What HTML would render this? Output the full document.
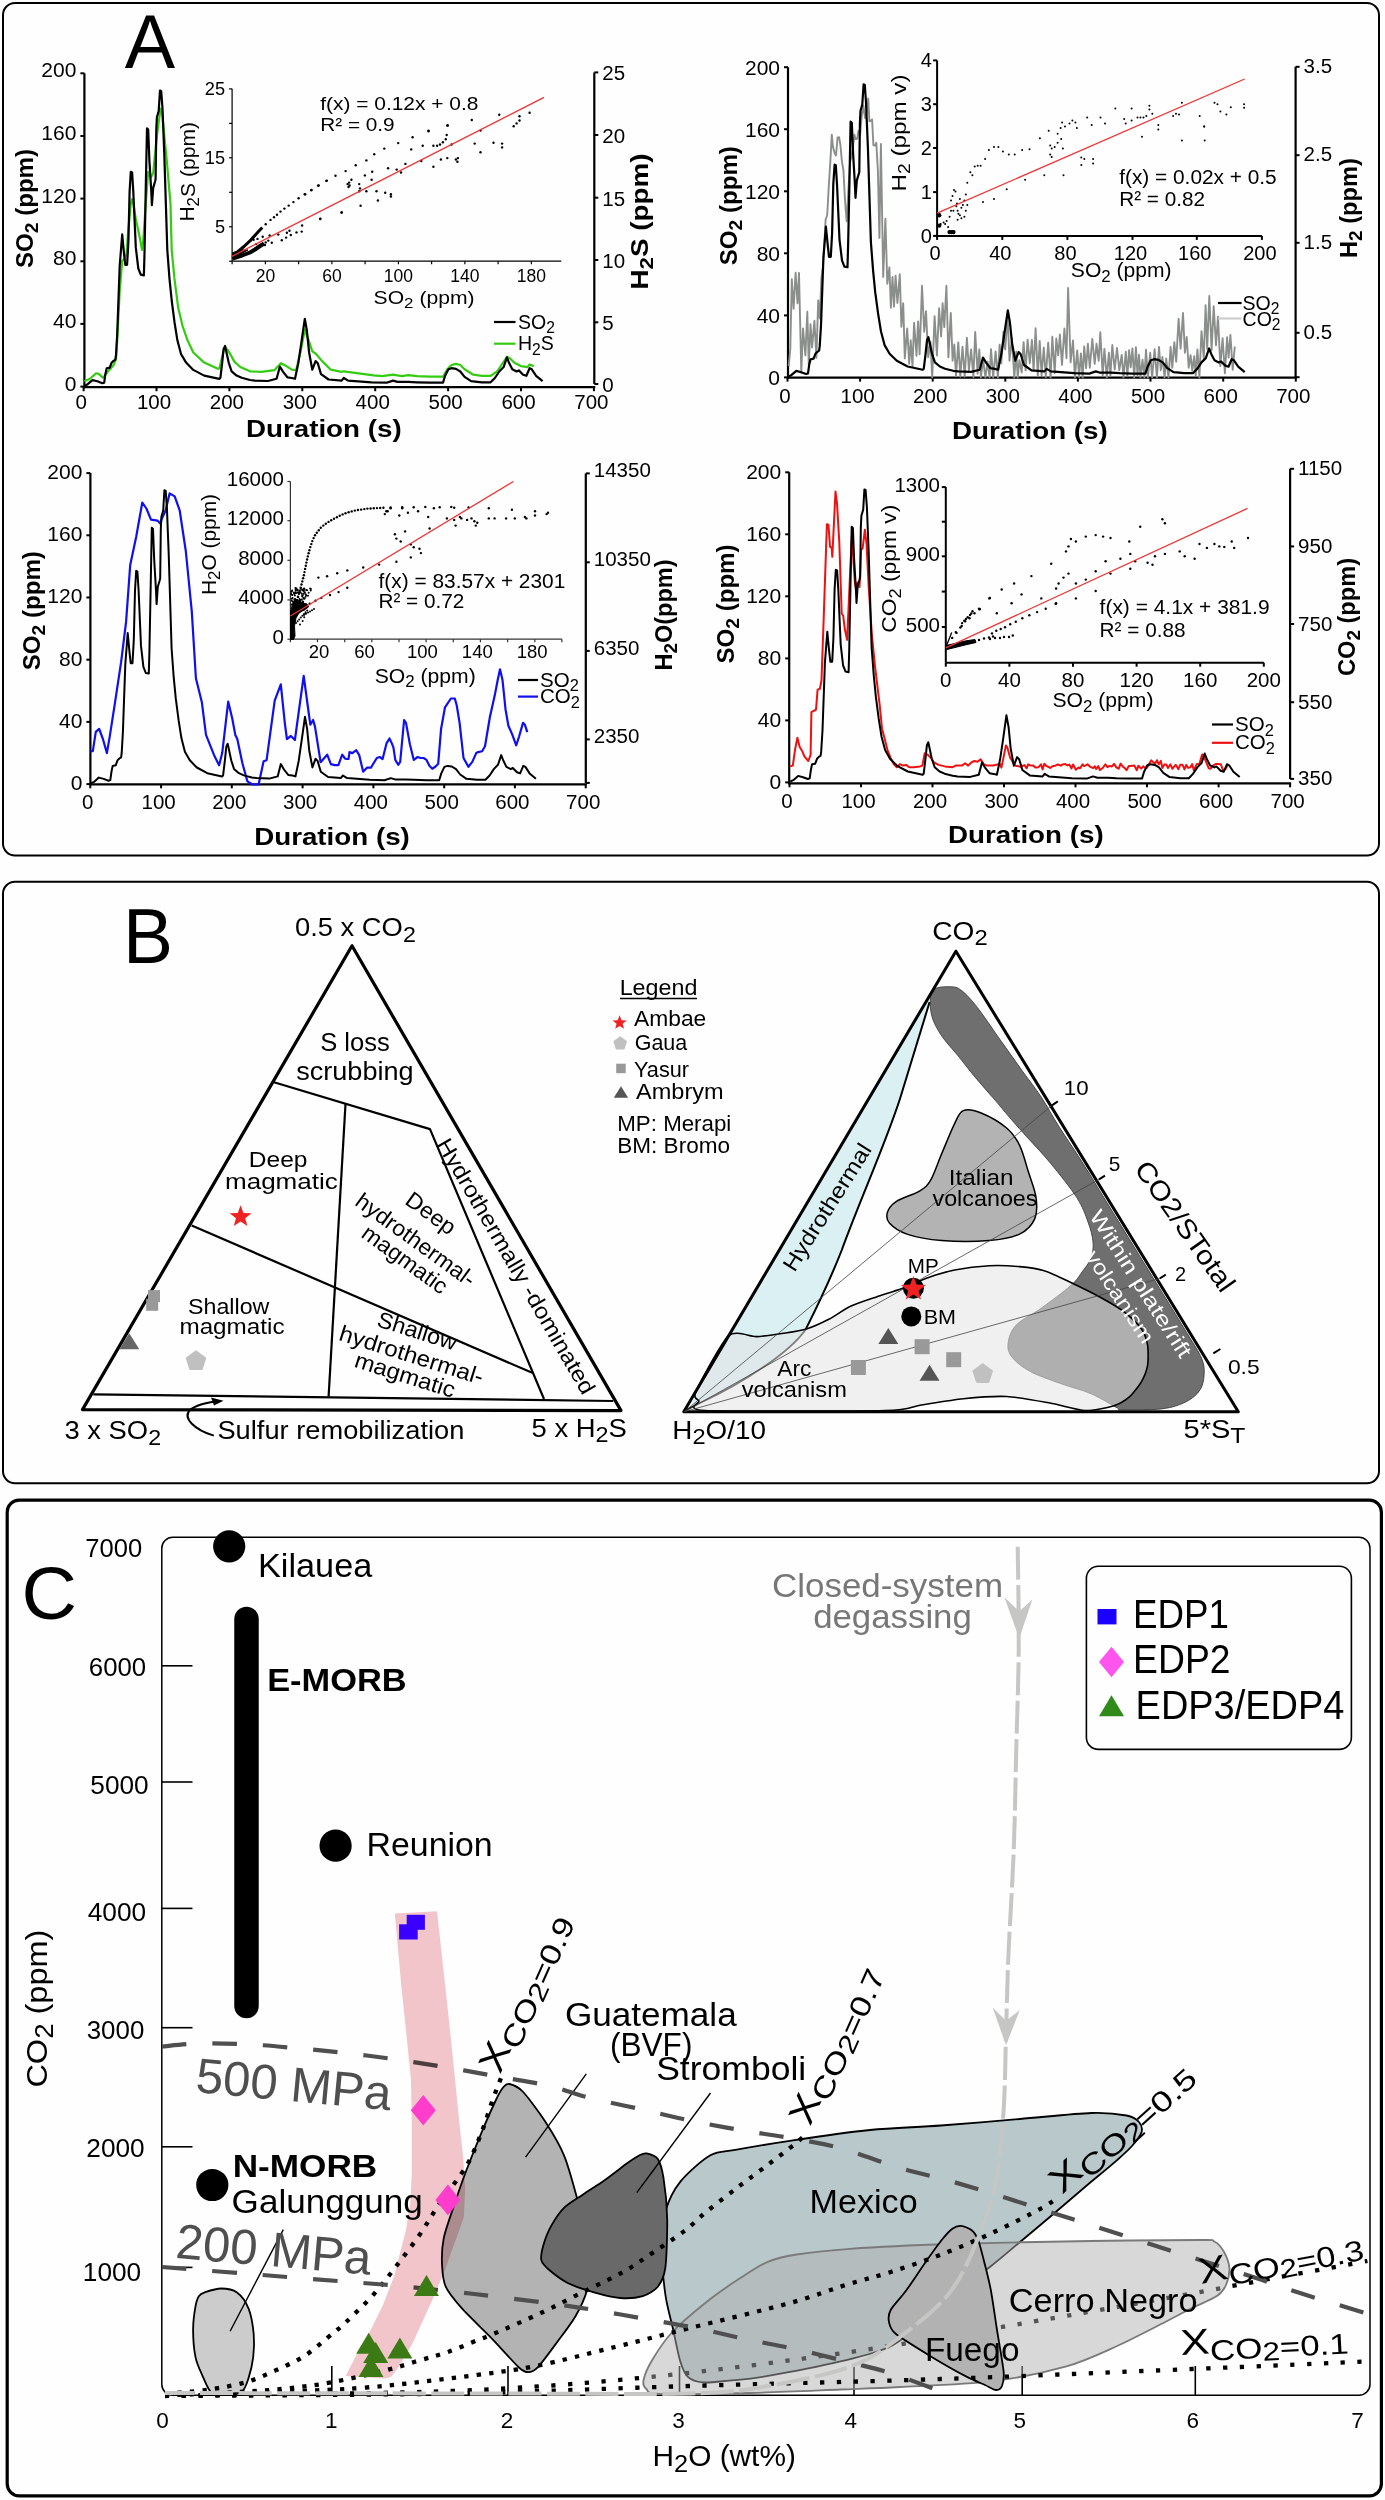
<!DOCTYPE html>
<html><head><meta charset="utf-8"><title>Figure</title>
<style>
html,body{margin:0;padding:0;background:#fff;}
body{width:1385px;height:2500px;overflow:hidden;}
svg{display:block;font-family:"Liberation Sans", sans-serif;}
</style></head><body>
<svg width="1385" height="2500" viewBox="0 0 1385 2500">
<rect x="0" y="0" width="1385" height="2500" fill="#fefefe"/>
<rect x="3.0" y="3.0" width="1376.0" height="852.5" rx="12.0" fill="none" stroke="#000" stroke-width="2.0"/>
<text x="150.0" y="68.0" font-size="75.5" text-anchor="middle" font-weight="normal" fill="#000">A</text>
<line x1="84.4" y1="73.2" x2="84.4" y2="388.2" stroke="#000" stroke-width="2.20"/>
<line x1="80.4" y1="73.3" x2="84.4" y2="73.3" stroke="#000" stroke-width="2.00"/>
<text x="76.4" y="77.4" font-size="21.0" text-anchor="end" font-weight="normal" fill="#000">200</text>
<line x1="80.4" y1="136.0" x2="84.4" y2="136.0" stroke="#000" stroke-width="2.00"/>
<text x="76.4" y="140.1" font-size="21.0" text-anchor="end" font-weight="normal" fill="#000">160</text>
<line x1="80.4" y1="198.6" x2="84.4" y2="198.6" stroke="#000" stroke-width="2.00"/>
<text x="76.4" y="202.7" font-size="21.0" text-anchor="end" font-weight="normal" fill="#000">120</text>
<line x1="80.4" y1="261.3" x2="84.4" y2="261.3" stroke="#000" stroke-width="2.00"/>
<text x="76.4" y="265.4" font-size="21.0" text-anchor="end" font-weight="normal" fill="#000">80</text>
<line x1="80.4" y1="323.9" x2="84.4" y2="323.9" stroke="#000" stroke-width="2.00"/>
<text x="76.4" y="328.0" font-size="21.0" text-anchor="end" font-weight="normal" fill="#000">40</text>
<line x1="80.4" y1="386.6" x2="84.4" y2="386.6" stroke="#000" stroke-width="2.00"/>
<text x="76.4" y="390.7" font-size="21.0" text-anchor="end" font-weight="normal" fill="#000">0</text>
<line x1="83.4" y1="387.2" x2="595.3" y2="387.2" stroke="#000" stroke-width="2.20"/>
<line x1="83.6" y1="387.2" x2="83.6" y2="391.2" stroke="#000" stroke-width="2.00"/>
<text x="81.1" y="408.5" font-size="20.5" text-anchor="middle" font-weight="normal" fill="#000">0</text>
<line x1="156.5" y1="387.2" x2="156.5" y2="391.2" stroke="#000" stroke-width="2.00"/>
<text x="154.0" y="408.5" font-size="20.5" text-anchor="middle" font-weight="normal" fill="#000">100</text>
<line x1="229.4" y1="387.2" x2="229.4" y2="391.2" stroke="#000" stroke-width="2.00"/>
<text x="226.9" y="408.5" font-size="20.5" text-anchor="middle" font-weight="normal" fill="#000">200</text>
<line x1="302.3" y1="387.2" x2="302.3" y2="391.2" stroke="#000" stroke-width="2.00"/>
<text x="299.8" y="408.5" font-size="20.5" text-anchor="middle" font-weight="normal" fill="#000">300</text>
<line x1="375.2" y1="387.2" x2="375.2" y2="391.2" stroke="#000" stroke-width="2.00"/>
<text x="372.7" y="408.5" font-size="20.5" text-anchor="middle" font-weight="normal" fill="#000">400</text>
<line x1="448.1" y1="387.2" x2="448.1" y2="391.2" stroke="#000" stroke-width="2.00"/>
<text x="445.6" y="408.5" font-size="20.5" text-anchor="middle" font-weight="normal" fill="#000">500</text>
<line x1="521.0" y1="387.2" x2="521.0" y2="391.2" stroke="#000" stroke-width="2.00"/>
<text x="518.5" y="408.5" font-size="20.5" text-anchor="middle" font-weight="normal" fill="#000">600</text>
<line x1="593.9" y1="387.2" x2="593.9" y2="391.2" stroke="#000" stroke-width="2.00"/>
<text x="591.4" y="408.5" font-size="20.5" text-anchor="middle" font-weight="normal" fill="#000">700</text>
<line x1="594.3" y1="72.4" x2="594.3" y2="384.0" stroke="#000" stroke-width="2.20"/>
<line x1="594.3" y1="72.4" x2="598.3" y2="72.4" stroke="#000" stroke-width="2.00"/>
<line x1="594.3" y1="135.0" x2="598.3" y2="135.0" stroke="#000" stroke-width="2.00"/>
<line x1="594.3" y1="197.7" x2="598.3" y2="197.7" stroke="#000" stroke-width="2.00"/>
<line x1="594.3" y1="260.0" x2="598.3" y2="260.0" stroke="#000" stroke-width="2.00"/>
<line x1="594.3" y1="322.3" x2="598.3" y2="322.3" stroke="#000" stroke-width="2.00"/>
<line x1="594.3" y1="384.0" x2="598.3" y2="384.0" stroke="#000" stroke-width="2.00"/>
<text x="602.3" y="80.4" font-size="20.5" text-anchor="start" font-weight="normal" fill="#000">25</text>
<text x="602.3" y="143.0" font-size="20.5" text-anchor="start" font-weight="normal" fill="#000">20</text>
<text x="602.3" y="205.7" font-size="20.5" text-anchor="start" font-weight="normal" fill="#000">15</text>
<text x="602.3" y="268.0" font-size="20.5" text-anchor="start" font-weight="normal" fill="#000">10</text>
<text x="602.3" y="330.3" font-size="20.5" text-anchor="start" font-weight="normal" fill="#000">5</text>
<text x="602.3" y="392.0" font-size="20.5" text-anchor="start" font-weight="normal" fill="#000">0</text>
<polyline points="84.3,381.3 89.9,378.8 96.1,373.3 98.6,373.9 102.9,377.6 104.8,375.7 108.5,370.8 113.5,365.2 116.0,359.0 117.2,340.4 119.7,290.8 122.2,261.0 124.6,258.6 126.5,253.6 128.4,228.8 130.8,204.0 132.1,199.0 133.3,204.0 135.8,218.9 139.5,236.2 142.0,249.9 143.2,241.2 145.7,204.0 148.2,171.8 149.4,175.5 151.3,176.7 153.2,173.0 155.0,154.4 156.9,135.8 159.4,117.2 160.6,108.5 161.8,109.8 164.3,135.8 166.8,160.6 170.5,204.0 171.7,250.0 174.5,278.9 178.2,307.8 182.5,325.8 187.5,340.3 193.3,352.5 204.2,362.6 217.9,368.8 219.3,368.4 221.5,359.7 223.6,351.1 225.8,348.2 228.0,350.4 230.9,355.4 234.5,361.9 240.3,367.0 250.0,371.3 261.4,371.9 274.4,370.2 280.9,363.2 285.3,365.4 291.8,369.7 296.1,370.2 300.4,352.4 304.8,329.7 309.1,341.6 312.3,351.3 315.6,353.5 322.1,361.1 330.8,369.7 341.6,371.9 343.8,371.3 373.6,375.4 382.3,376.2 393.1,374.7 401.8,376.2 408.3,375.2 417.0,376.2 430.0,376.7 443.0,376.7 447.3,369.3 451.6,365.0 456.0,363.9 460.3,365.0 464.6,369.3 473.3,374.7 481.9,375.8 490.6,375.8 497.1,371.5 501.4,365.0 506.9,356.8 510.1,358.5 514.4,362.8 520.9,366.1 527.4,367.1 529.6,364.5 533.9,366.1" fill="none" stroke="#33cc11" stroke-width="2.20" stroke-linejoin="round"/>
<polyline points="84.3,385.7 87.4,384.4 92.4,380.1 97.4,381.3 102.3,383.2 104.2,382.6 105.4,373.9 106.7,368.3 109.8,367.7 111.6,362.7 113.5,360.9 115.3,359.6 116.0,355.3 117.2,334.2 119.7,266.0 122.2,234.4 124.0,253.6 125.3,264.8 127.1,264.8 128.4,241.2 129.6,191.6 130.8,171.8 132.1,172.4 133.3,191.6 135.8,247.4 138.3,268.5 140.8,274.7 143.9,275.3 144.5,253.6 145.7,191.6 147.0,128.4 148.2,129.6 149.4,160.6 151.3,191.6 151.9,205.2 153.2,187.9 155.0,181.7 155.6,179.2 156.3,129.6 156.9,117.2 158.7,111.0 160.0,90.5 161.2,91.2 162.5,108.5 164.3,154.4 167.3,250.0 169.5,278.9 171.7,300.5 174.5,322.2 177.4,340.3 181.0,354.0 186.1,362.6 193.3,369.9 204.2,375.6 219.3,378.9 220.4,377.8 222.2,362.6 223.6,348.9 225.1,346.0 226.5,352.5 228.7,362.6 231.6,371.3 236.6,375.6 241.7,377.8 250.0,380.0 254.9,380.6 267.9,381.0 276.6,378.8 279.9,366.5 283.1,371.9 287.4,377.3 291.8,378.0 295.0,378.8 298.3,363.2 301.5,341.6 304.8,318.8 306.9,330.8 309.1,352.4 312.3,369.7 315.6,361.1 317.8,363.2 321.0,374.1 328.6,379.5 341.6,380.6 343.8,378.0 348.1,380.6 371.5,382.3 386.6,382.7 393.1,380.6 397.5,381.9 408.3,381.9 417.0,382.3 430.0,382.7 443.0,382.7 445.1,375.8 448.4,369.3 451.6,368.2 456.0,368.9 460.3,371.5 464.6,376.9 471.1,381.2 481.9,382.3 490.6,382.3 494.9,378.0 499.3,371.5 503.6,367.1 506.9,357.4 509.0,362.8 512.3,369.3 516.6,371.5 518.8,370.4 523.1,374.7 526.4,375.8 529.6,368.2 531.8,369.3 536.1,375.8 542.6,381.2" fill="none" stroke="#000" stroke-width="2.20" stroke-linejoin="round"/>
<line x1="494.0" y1="322.0" x2="515.5" y2="322.0" stroke="#000" stroke-width="2.20"/>
<text x="518.0" y="328.5" font-size="19.5" text-anchor="start" font-weight="normal" fill="#000">SO<tspan font-size="80%" dy="0.28em">2</tspan><tspan dy="-0.22em">&#8203;</tspan></text>
<line x1="494.0" y1="343.7" x2="515.5" y2="343.7" stroke="#33cc11" stroke-width="2.20"/>
<text x="518.0" y="350.3" font-size="19.5" text-anchor="start" font-weight="normal" fill="#000">H<tspan font-size="80%" dy="0.28em">2</tspan><tspan dy="-0.22em">&#8203;</tspan>S</text>
<text x="32.5" y="208.5" font-size="24.0" text-anchor="middle" font-weight="bold" fill="#000" textLength="119.0" lengthAdjust="spacingAndGlyphs" transform="rotate(-90.00 32.5 208.5)">SO<tspan font-size="80%" dy="0.28em">2</tspan><tspan dy="-0.22em">&#8203;</tspan> (ppm)</text>
<text x="648.0" y="221.5" font-size="24.0" text-anchor="middle" font-weight="bold" fill="#000" textLength="136.0" lengthAdjust="spacingAndGlyphs" transform="rotate(-90.00 648.0 221.5)">H<tspan font-size="80%" dy="0.28em">2</tspan><tspan dy="-0.22em">&#8203;</tspan>S (ppm)</text>
<text x="323.8" y="436.7" font-size="23.5" text-anchor="middle" font-weight="bold" fill="#000" textLength="155.7" lengthAdjust="spacingAndGlyphs">Duration (s)</text>
<line x1="232.1" y1="88.8" x2="232.1" y2="261.2" stroke="#000" stroke-width="1.20"/>
<line x1="229.1" y1="261.2" x2="232.1" y2="261.2" stroke="#000" stroke-width="1.20"/>
<line x1="229.1" y1="226.8" x2="232.1" y2="226.8" stroke="#000" stroke-width="1.20"/>
<line x1="229.1" y1="192.3" x2="232.1" y2="192.3" stroke="#000" stroke-width="1.20"/>
<line x1="229.1" y1="157.8" x2="232.1" y2="157.8" stroke="#000" stroke-width="1.20"/>
<line x1="229.1" y1="123.4" x2="232.1" y2="123.4" stroke="#000" stroke-width="1.20"/>
<line x1="229.1" y1="88.9" x2="232.1" y2="88.9" stroke="#000" stroke-width="1.20"/>
<text x="225.0" y="95.1" font-size="18.2" text-anchor="end" font-weight="normal" fill="#000">25</text>
<text x="225.0" y="164.0" font-size="18.2" text-anchor="end" font-weight="normal" fill="#000">15</text>
<text x="225.0" y="232.9" font-size="18.2" text-anchor="end" font-weight="normal" fill="#000">5</text>
<line x1="232.1" y1="261.2" x2="561.3" y2="261.2" stroke="#000" stroke-width="1.20"/>
<line x1="232.1" y1="261.2" x2="232.1" y2="264.2" stroke="#000" stroke-width="1.20"/>
<line x1="265.4" y1="261.2" x2="265.4" y2="264.2" stroke="#000" stroke-width="1.20"/>
<line x1="298.6" y1="261.2" x2="298.6" y2="264.2" stroke="#000" stroke-width="1.20"/>
<line x1="331.9" y1="261.2" x2="331.9" y2="264.2" stroke="#000" stroke-width="1.20"/>
<line x1="365.1" y1="261.2" x2="365.1" y2="264.2" stroke="#000" stroke-width="1.20"/>
<line x1="398.4" y1="261.2" x2="398.4" y2="264.2" stroke="#000" stroke-width="1.20"/>
<line x1="431.6" y1="261.2" x2="431.6" y2="264.2" stroke="#000" stroke-width="1.20"/>
<line x1="464.9" y1="261.2" x2="464.9" y2="264.2" stroke="#000" stroke-width="1.20"/>
<line x1="498.1" y1="261.2" x2="498.1" y2="264.2" stroke="#000" stroke-width="1.20"/>
<line x1="531.4" y1="261.2" x2="531.4" y2="264.2" stroke="#000" stroke-width="1.20"/>
<text x="265.4" y="282.3" font-size="17.5" text-anchor="middle" font-weight="normal" fill="#000">20</text>
<text x="331.9" y="282.3" font-size="17.5" text-anchor="middle" font-weight="normal" fill="#000">60</text>
<text x="398.4" y="282.3" font-size="17.5" text-anchor="middle" font-weight="normal" fill="#000">100</text>
<text x="464.9" y="282.3" font-size="17.5" text-anchor="middle" font-weight="normal" fill="#000">140</text>
<text x="531.4" y="282.3" font-size="17.5" text-anchor="middle" font-weight="normal" fill="#000">180</text>
<text x="424.1" y="303.9" font-size="19.0" text-anchor="middle" font-weight="normal" fill="#000" textLength="101.0" lengthAdjust="spacingAndGlyphs">SO<tspan font-size="80%" dy="0.28em">2</tspan><tspan dy="-0.22em">&#8203;</tspan> (ppm)</text>
<text x="194.5" y="171.8" font-size="19.5" text-anchor="middle" font-weight="normal" fill="#000" textLength="99.6" lengthAdjust="spacingAndGlyphs" transform="rotate(-90.00 194.5 171.8)">H<tspan font-size="80%" dy="0.28em">2</tspan><tspan dy="-0.22em">&#8203;</tspan>S (ppm)</text>
<polyline points="232.4,254.0 238.0,251.5 244.0,246.5 251.0,239.8 258.0,232.0 262.3,227.5" fill="none" stroke="#000" stroke-width="3.00" stroke-linejoin="round"/>
<polyline points="232.4,258.5 242.0,255.5 250.0,252.5 255.0,249.5 260.0,246.0 264.0,243.5" fill="none" stroke="#000" stroke-width="4.00" stroke-linejoin="round"/>
<polygon points="232.4,254.0 240.0,250.0 248.0,250.0 232.4,258.5" fill="#000" stroke="#000" stroke-width="1.00" stroke-linejoin="round"/>
<g fill="#000"><circle cx="265.7" cy="224.2" r="1.2"/><circle cx="270.5" cy="219.9" r="1.2"/><circle cx="274.0" cy="217.3" r="1.2"/><circle cx="277.0" cy="214.7" r="1.2"/><circle cx="280.5" cy="211.6" r="1.2"/><circle cx="284.4" cy="208.6" r="1.2"/><circle cx="288.7" cy="205.6" r="1.2"/><circle cx="293.4" cy="202.1" r="1.2"/><circle cx="298.6" cy="198.2" r="1.2"/><circle cx="304.7" cy="194.3" r="1.2"/><circle cx="311.2" cy="190.2" r="1.2"/><circle cx="318.1" cy="185.6" r="1.2"/><circle cx="326.4" cy="180.9" r="1.2"/><circle cx="262.7" cy="236.8" r="1.2"/><circle cx="257.5" cy="238.9" r="1.2"/><circle cx="269.6" cy="235.5" r="1.2"/><circle cx="278.3" cy="234.6" r="1.2"/><circle cx="289.5" cy="230.7" r="1.2"/><circle cx="286.9" cy="232.7" r="1.2"/><circle cx="296.5" cy="232.4" r="1.2"/><circle cx="301.7" cy="231.6" r="1.2"/><circle cx="302.1" cy="225.5" r="1.2"/><circle cx="281.8" cy="240.2" r="1.2"/><circle cx="286.1" cy="237.6" r="1.2"/><circle cx="290.8" cy="235.0" r="1.2"/><circle cx="271.8" cy="242.8" r="1.2"/><circle cx="320.3" cy="219.0" r="1.2"/><circle cx="341.5" cy="212.5" r="1.2"/><circle cx="251.0" cy="240.6" r="1.2"/><circle cx="253.6" cy="239.8" r="1.2"/><circle cx="265.7" cy="242.4" r="1.2"/><circle cx="261.4" cy="245.8" r="1.2"/><circle cx="264.9" cy="245.0" r="1.2"/><circle cx="268.3" cy="240.6" r="1.2"/><circle cx="256.2" cy="244.1" r="1.2"/><circle cx="305.2" cy="194.2" r="1.2"/><circle cx="311.5" cy="189.9" r="1.2"/><circle cx="318.7" cy="185.5" r="1.2"/><circle cx="326.8" cy="180.6" r="1.2"/><circle cx="335.5" cy="175.7" r="1.2"/><circle cx="345.6" cy="171.1" r="1.2"/><circle cx="355.7" cy="165.3" r="1.2"/><circle cx="366.4" cy="160.4" r="1.2"/><circle cx="374.2" cy="154.3" r="1.2"/><circle cx="384.3" cy="148.6" r="1.2"/><circle cx="398.2" cy="143.1" r="1.2"/><circle cx="412.6" cy="137.3" r="1.2"/><circle cx="428.5" cy="131.2" r="1.2"/><circle cx="447.3" cy="125.5" r="1.2"/><circle cx="471.8" cy="120.0" r="1.2"/><circle cx="499.2" cy="114.8" r="1.2"/><circle cx="519.5" cy="116.2" r="1.2"/><circle cx="529.6" cy="112.7" r="1.2"/><circle cx="513.7" cy="126.3" r="1.2"/><circle cx="516.6" cy="123.4" r="1.2"/><circle cx="519.5" cy="120.5" r="1.2"/><circle cx="320.2" cy="218.7" r="1.2"/><circle cx="341.8" cy="212.4" r="1.2"/><circle cx="347.6" cy="184.1" r="1.2"/><circle cx="348.5" cy="187.0" r="1.2"/><circle cx="349.1" cy="182.6" r="1.2"/><circle cx="349.6" cy="185.5" r="1.2"/><circle cx="351.4" cy="179.7" r="1.2"/><circle cx="359.2" cy="184.1" r="1.2"/><circle cx="360.0" cy="188.4" r="1.2"/><circle cx="359.2" cy="191.3" r="1.2"/><circle cx="360.6" cy="205.7" r="1.2"/><circle cx="366.4" cy="191.3" r="1.2"/><circle cx="364.9" cy="175.4" r="1.2"/><circle cx="372.2" cy="171.7" r="1.2"/><circle cx="371.6" cy="179.7" r="1.2"/><circle cx="376.5" cy="191.3" r="1.2"/><circle cx="377.9" cy="200.5" r="1.2"/><circle cx="385.2" cy="192.7" r="1.2"/><circle cx="390.9" cy="194.2" r="1.2"/><circle cx="390.9" cy="196.5" r="1.2"/><circle cx="388.1" cy="168.2" r="1.2"/><circle cx="396.7" cy="169.6" r="1.2"/><circle cx="401.0" cy="172.5" r="1.2"/><circle cx="405.4" cy="163.9" r="1.2"/><circle cx="411.2" cy="149.4" r="1.2"/><circle cx="422.7" cy="145.7" r="1.2"/><circle cx="421.3" cy="161.0" r="1.2"/><circle cx="428.5" cy="130.6" r="1.2"/><circle cx="433.4" cy="145.7" r="1.2"/><circle cx="433.4" cy="166.8" r="1.2"/><circle cx="437.1" cy="145.7" r="1.2"/><circle cx="440.0" cy="144.5" r="1.2"/><circle cx="442.9" cy="142.2" r="1.2"/><circle cx="445.8" cy="139.3" r="1.2"/><circle cx="446.7" cy="135.0" r="1.2"/><circle cx="447.8" cy="125.5" r="1.2"/><circle cx="451.6" cy="144.5" r="1.2"/><circle cx="447.3" cy="158.1" r="1.2"/><circle cx="440.9" cy="159.5" r="1.2"/><circle cx="455.9" cy="159.5" r="1.2"/><circle cx="457.9" cy="158.1" r="1.2"/><circle cx="457.4" cy="161.8" r="1.2"/><circle cx="474.7" cy="143.6" r="1.2"/><circle cx="480.5" cy="130.6" r="1.2"/><circle cx="480.5" cy="152.3" r="1.2"/><circle cx="493.5" cy="142.8" r="1.2"/><circle cx="502.1" cy="143.6" r="1.2"/><circle cx="502.1" cy="147.4" r="1.2"/></g>
<line x1="232.0" y1="256.3" x2="544.0" y2="97.4" stroke="#ee3333" stroke-width="1.30"/>
<text x="320.2" y="109.9" font-size="19.0" text-anchor="start" font-weight="normal" fill="#000" textLength="158.2" lengthAdjust="spacingAndGlyphs">f(x) = 0.12x + 0.8</text>
<text x="320.2" y="131.2" font-size="19.0" text-anchor="start" font-weight="normal" fill="#000" textLength="74.5" lengthAdjust="spacingAndGlyphs">R&#178; = 0.9</text>
<line x1="788.0" y1="67.2" x2="788.0" y2="378.6" stroke="#000" stroke-width="2.20"/>
<line x1="784.0" y1="67.2" x2="788.0" y2="67.2" stroke="#000" stroke-width="2.00"/>
<text x="780.0" y="75.1" font-size="21.0" text-anchor="end" font-weight="normal" fill="#000">200</text>
<line x1="784.0" y1="129.2" x2="788.0" y2="129.2" stroke="#000" stroke-width="2.00"/>
<text x="780.0" y="137.1" font-size="21.0" text-anchor="end" font-weight="normal" fill="#000">160</text>
<line x1="784.0" y1="191.3" x2="788.0" y2="191.3" stroke="#000" stroke-width="2.00"/>
<text x="780.0" y="199.2" font-size="21.0" text-anchor="end" font-weight="normal" fill="#000">120</text>
<line x1="784.0" y1="253.3" x2="788.0" y2="253.3" stroke="#000" stroke-width="2.00"/>
<text x="780.0" y="261.2" font-size="21.0" text-anchor="end" font-weight="normal" fill="#000">80</text>
<line x1="784.0" y1="315.4" x2="788.0" y2="315.4" stroke="#000" stroke-width="2.00"/>
<text x="780.0" y="323.3" font-size="21.0" text-anchor="end" font-weight="normal" fill="#000">40</text>
<line x1="784.0" y1="377.4" x2="788.0" y2="377.4" stroke="#000" stroke-width="2.00"/>
<text x="780.0" y="385.3" font-size="21.0" text-anchor="end" font-weight="normal" fill="#000">0</text>
<line x1="787.0" y1="377.6" x2="1296.6" y2="377.6" stroke="#000" stroke-width="2.20"/>
<line x1="787.5" y1="377.6" x2="787.5" y2="381.6" stroke="#000" stroke-width="2.00"/>
<text x="785.0" y="402.5" font-size="20.5" text-anchor="middle" font-weight="normal" fill="#000">0</text>
<line x1="860.1" y1="377.6" x2="860.1" y2="381.6" stroke="#000" stroke-width="2.00"/>
<text x="857.6" y="402.5" font-size="20.5" text-anchor="middle" font-weight="normal" fill="#000">100</text>
<line x1="932.7" y1="377.6" x2="932.7" y2="381.6" stroke="#000" stroke-width="2.00"/>
<text x="930.2" y="402.5" font-size="20.5" text-anchor="middle" font-weight="normal" fill="#000">200</text>
<line x1="1005.3" y1="377.6" x2="1005.3" y2="381.6" stroke="#000" stroke-width="2.00"/>
<text x="1002.8" y="402.5" font-size="20.5" text-anchor="middle" font-weight="normal" fill="#000">300</text>
<line x1="1077.9" y1="377.6" x2="1077.9" y2="381.6" stroke="#000" stroke-width="2.00"/>
<text x="1075.4" y="402.5" font-size="20.5" text-anchor="middle" font-weight="normal" fill="#000">400</text>
<line x1="1150.5" y1="377.6" x2="1150.5" y2="381.6" stroke="#000" stroke-width="2.00"/>
<text x="1148.0" y="402.5" font-size="20.5" text-anchor="middle" font-weight="normal" fill="#000">500</text>
<line x1="1223.2" y1="377.6" x2="1223.2" y2="381.6" stroke="#000" stroke-width="2.00"/>
<text x="1220.7" y="402.5" font-size="20.5" text-anchor="middle" font-weight="normal" fill="#000">600</text>
<line x1="1295.8" y1="377.6" x2="1295.8" y2="381.6" stroke="#000" stroke-width="2.00"/>
<text x="1293.3" y="402.5" font-size="20.5" text-anchor="middle" font-weight="normal" fill="#000">700</text>
<line x1="1295.6" y1="66.8" x2="1295.6" y2="377.2" stroke="#000" stroke-width="2.20"/>
<line x1="1295.6" y1="66.8" x2="1299.6" y2="66.8" stroke="#000" stroke-width="2.00"/>
<line x1="1295.6" y1="155.2" x2="1299.6" y2="155.2" stroke="#000" stroke-width="2.00"/>
<line x1="1295.6" y1="242.8" x2="1299.6" y2="242.8" stroke="#000" stroke-width="2.00"/>
<line x1="1295.6" y1="332.8" x2="1299.6" y2="332.8" stroke="#000" stroke-width="2.00"/>
<line x1="1295.6" y1="377.2" x2="1299.6" y2="377.2" stroke="#000" stroke-width="2.00"/>
<text x="1303.6" y="72.8" font-size="20.5" text-anchor="start" font-weight="normal" fill="#000">3.5</text>
<text x="1303.6" y="161.2" font-size="20.5" text-anchor="start" font-weight="normal" fill="#000">2.5</text>
<text x="1303.6" y="248.8" font-size="20.5" text-anchor="start" font-weight="normal" fill="#000">1.5</text>
<text x="1303.6" y="338.8" font-size="20.5" text-anchor="start" font-weight="normal" fill="#000">0.5</text>
<polyline points="788.7,366.2 790.3,349.0 791.8,279.3 793.6,308.8 795.6,272.6 797.5,303.2 799.0,272.9 801.3,372.5 803.0,328.4 805.4,355.4 807.3,311.8 808.8,365.4 810.5,324.3 812.1,347.5 814.4,320.8 816.4,357.9 818.2,300.4 819.8,318.4 821.4,278.1 822.8,268.1 824.3,244.8 825.6,219.7 827.2,215.3 828.7,187.5 830.5,158.9 831.8,134.6 832.9,146.5 834.6,153.1 836.0,155.5 837.6,137.4 839.1,137.3 840.4,144.9 841.9,161.3 843.4,170.0 845.1,201.9 846.7,221.3 848.3,191.4 850.1,161.7 851.4,156.9 853.0,146.6 854.4,134.7 855.6,139.0 857.2,138.8 858.5,130.8 860.2,134.1 861.6,116.7 863.4,105.6 865.1,118.2 866.5,113.9 868.2,98.4 869.4,121.3 870.7,120.9 872.1,119.5 873.4,145.4 874.8,145.6 876.3,142.8 877.9,170.9 879.4,237.9 880.9,144.0 883.2,276.9 885.4,218.8 887.3,283.8 889.4,267.4 890.9,307.7 892.5,276.9 894.0,306.6 895.6,275.8 897.4,302.9 899.8,274.3 901.4,326.8 903.2,303.3 904.8,358.4 907.2,328.5 909.2,363.7 910.7,340.3 912.5,366.6 914.1,322.7 916.5,355.7 918.1,321.4 919.6,354.3 922.0,285.8 924.2,331.7 926.0,311.2 928.2,357.2 930.5,342.0 932.2,377.4 934.6,316.3 936.9,355.5 939.1,308.2 941.1,336.4 942.6,303.3 944.3,327.1 946.4,285.8 948.4,357.4 950.8,312.9 952.6,360.7 954.3,344.5 956.0,376.3 958.3,342.4 960.3,376.6 962.5,346.6 964.7,376.5 966.9,337.7 968.9,370.2 971.1,349.5 973.4,377.0 975.2,331.9 977.6,373.7 979.3,349.5 980.9,377.4 983.1,359.5 985.4,377.4 987.6,361.8 989.6,377.4 991.0,349.1 993.2,377.4 995.6,351.4 997.9,377.4 999.6,344.7 1001.3,363.2 1003.4,331.8 1005.2,349.5 1007.6,314.9 1009.5,360.7 1011.9,338.3 1014.3,377.4 1016.3,351.6 1017.7,377.4 1019.4,360.1 1021.7,372.6 1023.6,342.1 1025.6,370.4 1027.6,339.7 1029.8,363.2 1031.9,340.0 1033.6,370.9 1035.6,328.2 1037.8,375.9 1039.7,340.9 1041.6,375.1 1043.8,347.6 1045.8,377.0 1048.2,342.6 1050.6,377.4 1052.3,336.8 1054.7,373.0 1056.3,338.5 1058.2,355.4 1059.9,334.5 1062.0,364.9 1064.4,328.5 1066.5,358.2 1068.1,288.0 1070.6,362.3 1073.0,340.5 1074.9,377.4 1077.2,350.4 1079.1,377.0 1080.9,353.4 1082.7,377.4 1084.2,346.4 1086.1,368.3 1087.9,343.7 1089.8,367.7 1092.3,339.0 1094.7,363.9 1096.5,343.8 1098.7,360.8 1100.3,332.3 1102.7,375.3 1104.4,348.9 1106.8,377.4 1108.9,352.6 1110.4,376.0 1112.3,345.0 1114.7,369.5 1117.0,348.0 1119.3,370.2 1121.7,354.9 1123.5,377.4 1125.8,351.6 1127.4,375.8 1129.1,350.2 1130.7,367.4 1132.4,348.5 1134.2,377.4 1135.9,347.2 1137.5,375.5 1139.0,354.8 1140.5,377.4 1142.5,359.8 1144.4,377.4 1146.0,349.6 1147.9,377.4 1150.2,352.8 1152.1,377.4 1154.6,349.3 1156.9,377.4 1159.0,347.0 1160.8,370.2 1162.4,357.0 1164.6,377.4 1166.2,358.5 1168.5,377.4 1170.6,347.0 1172.3,367.8 1174.3,342.2 1176.2,361.6 1178.6,318.8 1180.6,348.6 1183.0,313.0 1184.9,352.8 1186.7,337.0 1188.7,367.8 1190.6,355.1 1192.3,370.8 1194.2,356.2 1195.7,375.4 1197.4,349.4 1199.4,377.4 1201.5,331.3 1203.8,358.5 1205.6,305.3 1207.2,348.9 1209.3,296.0 1211.6,350.2 1213.7,306.2 1216.0,345.2 1218.0,316.6 1220.3,366.1 1222.6,338.3 1224.9,373.2 1227.1,337.3 1228.6,357.5 1230.4,334.9 1232.7,369.8 1234.8,346.5" fill="none" stroke="#8b8f8b" stroke-width="1.90" stroke-linejoin="round"/>
<polyline points="788.2,376.5 791.3,375.2 796.3,370.9 801.2,372.2 806.1,374.0 808.0,373.4 809.2,364.8 810.5,359.3 813.6,358.7 815.4,353.8 817.3,351.9 819.1,350.7 819.7,346.4 821.0,325.5 823.4,258.0 825.9,226.7 827.8,245.7 829.0,256.8 830.8,256.8 832.1,233.4 833.3,184.3 834.6,164.7 835.8,165.3 837.0,184.3 839.5,239.6 842.0,260.4 844.4,266.6 847.5,267.2 848.1,245.7 849.4,184.3 850.6,121.7 851.8,122.9 853.1,153.6 854.9,184.3 855.5,197.8 856.8,180.6 858.6,174.5 859.3,172.1 859.9,122.9 860.5,110.7 862.3,104.5 863.6,84.3 864.8,84.9 866.0,102.1 867.9,147.5 870.9,242.2 873.1,270.7 875.2,292.2 878.1,313.6 881.0,331.5 884.6,345.1 889.6,353.7 896.8,360.8 907.6,366.5 922.7,369.8 923.8,368.7 925.6,353.7 927.0,340.1 928.4,337.2 929.9,343.7 932.0,353.7 934.9,362.3 939.9,366.5 945.0,368.7 953.2,370.8 958.2,371.4 971.1,371.9 979.7,369.7 983.0,357.5 986.2,362.9 990.5,368.2 994.8,368.9 998.1,369.7 1001.3,354.3 1004.5,332.8 1007.8,310.3 1009.9,322.1 1012.1,343.6 1015.3,360.7 1018.6,352.1 1020.7,354.3 1024.0,365.0 1031.5,370.4 1044.5,371.4 1046.6,368.9 1050.9,371.4 1074.2,373.2 1089.3,373.6 1095.8,371.4 1100.1,372.7 1110.9,372.7 1119.5,373.2 1132.5,373.6 1145.4,373.6 1147.6,366.7 1150.8,360.3 1154.1,359.2 1158.4,359.9 1162.7,362.4 1167.0,367.8 1173.5,372.1 1184.3,373.2 1192.9,373.2 1197.2,368.9 1201.5,362.4 1205.8,358.1 1209.1,348.5 1211.2,353.9 1214.5,360.3 1218.8,362.4 1220.9,361.4 1225.3,365.6 1228.5,366.7 1231.7,359.2 1233.9,360.3 1238.2,366.7 1244.7,372.1" fill="none" stroke="#000" stroke-width="2.20" stroke-linejoin="round"/>
<line x1="1218.0" y1="303.0" x2="1241.6" y2="303.0" stroke="#000" stroke-width="2.20"/>
<text x="1242.6" y="309.5" font-size="19.5" text-anchor="start" font-weight="normal" fill="#000">SO<tspan font-size="80%" dy="0.28em">2</tspan><tspan dy="-0.22em">&#8203;</tspan></text>
<line x1="1218.0" y1="318.5" x2="1241.6" y2="318.5" stroke="#cccccc" stroke-width="2.20"/>
<text x="1242.6" y="325.5" font-size="19.5" text-anchor="start" font-weight="normal" fill="#000">CO<tspan font-size="80%" dy="0.28em">2</tspan><tspan dy="-0.22em">&#8203;</tspan></text>
<text x="737.0" y="205.7" font-size="24.0" text-anchor="middle" font-weight="bold" fill="#000" textLength="119.0" lengthAdjust="spacingAndGlyphs" transform="rotate(-90.00 737.0 205.7)">SO<tspan font-size="80%" dy="0.28em">2</tspan><tspan dy="-0.22em">&#8203;</tspan> (ppm)</text>
<text x="1357.0" y="208.0" font-size="24.0" text-anchor="middle" font-weight="bold" fill="#000" textLength="100.0" lengthAdjust="spacingAndGlyphs" transform="rotate(-90.00 1357.0 208.0)">H<tspan font-size="80%" dy="0.28em">2</tspan><tspan dy="-0.22em">&#8203;</tspan> (ppm)</text>
<text x="1029.9" y="438.9" font-size="23.5" text-anchor="middle" font-weight="bold" fill="#000" textLength="155.7" lengthAdjust="spacingAndGlyphs">Duration (s)</text>
<line x1="937.1" y1="60.4" x2="937.1" y2="235.9" stroke="#000" stroke-width="2.00"/>
<line x1="933.1" y1="60.4" x2="937.1" y2="60.4" stroke="#000" stroke-width="2.00"/>
<text x="931.8" y="67.4" font-size="20.0" text-anchor="end" font-weight="normal" fill="#000">4</text>
<line x1="933.1" y1="104.2" x2="937.1" y2="104.2" stroke="#000" stroke-width="2.00"/>
<text x="931.8" y="111.2" font-size="20.0" text-anchor="end" font-weight="normal" fill="#000">3</text>
<line x1="933.1" y1="148.0" x2="937.1" y2="148.0" stroke="#000" stroke-width="2.00"/>
<text x="931.8" y="155.0" font-size="20.0" text-anchor="end" font-weight="normal" fill="#000">2</text>
<line x1="933.1" y1="192.1" x2="937.1" y2="192.1" stroke="#000" stroke-width="2.00"/>
<text x="931.8" y="199.1" font-size="20.0" text-anchor="end" font-weight="normal" fill="#000">1</text>
<line x1="933.1" y1="235.9" x2="937.1" y2="235.9" stroke="#000" stroke-width="2.00"/>
<text x="931.8" y="242.9" font-size="20.0" text-anchor="end" font-weight="normal" fill="#000">0</text>
<line x1="937.1" y1="235.9" x2="1261.9" y2="235.9" stroke="#000" stroke-width="2.00"/>
<line x1="937.1" y1="235.9" x2="937.1" y2="239.9" stroke="#000" stroke-width="2.00"/>
<text x="935.1" y="259.6" font-size="20.0" text-anchor="middle" font-weight="normal" fill="#000">0</text>
<line x1="1002.3" y1="235.9" x2="1002.3" y2="239.9" stroke="#000" stroke-width="2.00"/>
<text x="1000.3" y="259.6" font-size="20.0" text-anchor="middle" font-weight="normal" fill="#000">40</text>
<line x1="1067.4" y1="235.9" x2="1067.4" y2="239.9" stroke="#000" stroke-width="2.00"/>
<text x="1065.4" y="259.6" font-size="20.0" text-anchor="middle" font-weight="normal" fill="#000">80</text>
<line x1="1132.5" y1="235.9" x2="1132.5" y2="239.9" stroke="#000" stroke-width="2.00"/>
<text x="1130.5" y="259.6" font-size="20.0" text-anchor="middle" font-weight="normal" fill="#000">120</text>
<line x1="1196.8" y1="235.9" x2="1196.8" y2="239.9" stroke="#000" stroke-width="2.00"/>
<text x="1194.8" y="259.6" font-size="20.0" text-anchor="middle" font-weight="normal" fill="#000">160</text>
<line x1="1261.9" y1="235.9" x2="1261.9" y2="239.9" stroke="#000" stroke-width="2.00"/>
<text x="1259.9" y="259.6" font-size="20.0" text-anchor="middle" font-weight="normal" fill="#000">200</text>
<text x="1121.2" y="277.4" font-size="20.0" text-anchor="middle" font-weight="normal" fill="#000" textLength="100.7" lengthAdjust="spacingAndGlyphs">SO<tspan font-size="80%" dy="0.28em">2</tspan><tspan dy="-0.22em">&#8203;</tspan> (ppm)</text>
<text x="905.5" y="133.0" font-size="20.0" text-anchor="middle" font-weight="normal" fill="#000" textLength="117.0" lengthAdjust="spacingAndGlyphs" transform="rotate(-90.00 905.5 133.0)">H<tspan font-size="80%" dy="0.28em">2</tspan><tspan dy="-0.22em">&#8203;</tspan> (ppm v)</text>
<g fill="#000"><circle cx="967.3" cy="182.7" r="1.0"/><circle cx="970.3" cy="172.3" r="1.0"/><circle cx="974.7" cy="166.4" r="1.0"/><circle cx="980.6" cy="165.8" r="1.0"/><circle cx="985.1" cy="159.0" r="1.0"/><circle cx="988.9" cy="150.1" r="1.0"/><circle cx="994.0" cy="147.1" r="1.0"/><circle cx="998.4" cy="147.1" r="1.0"/><circle cx="1002.9" cy="151.6" r="1.0"/><circle cx="1008.8" cy="154.5" r="1.0"/><circle cx="1014.7" cy="154.5" r="1.0"/><circle cx="1022.1" cy="150.1" r="1.0"/><circle cx="1029.5" cy="149.2" r="1.0"/><circle cx="1039.9" cy="138.2" r="1.0"/><circle cx="1048.7" cy="130.8" r="1.0"/><circle cx="1050.2" cy="145.6" r="1.0"/><circle cx="1051.7" cy="156.9" r="1.0"/><circle cx="1054.7" cy="147.1" r="1.0"/><circle cx="1057.6" cy="133.8" r="1.0"/><circle cx="1060.6" cy="127.9" r="1.0"/><circle cx="1062.1" cy="122.6" r="1.0"/><circle cx="1065.0" cy="126.4" r="1.0"/><circle cx="1069.5" cy="123.4" r="1.0"/><circle cx="1075.4" cy="122.6" r="1.0"/><circle cx="1076.9" cy="127.9" r="1.0"/><circle cx="1087.2" cy="117.5" r="1.0"/><circle cx="1091.7" cy="124.9" r="1.0"/><circle cx="1100.5" cy="117.5" r="1.0"/><circle cx="1105.0" cy="123.4" r="1.0"/><circle cx="1115.3" cy="108.6" r="1.0"/><circle cx="1124.2" cy="119.0" r="1.0"/><circle cx="1131.6" cy="108.6" r="1.0"/><circle cx="1137.5" cy="117.5" r="1.0"/><circle cx="1140.5" cy="117.5" r="1.0"/><circle cx="1143.5" cy="117.5" r="1.0"/><circle cx="1146.4" cy="116.0" r="1.0"/><circle cx="1149.4" cy="105.7" r="1.0"/><circle cx="1152.3" cy="113.7" r="1.0"/><circle cx="1158.3" cy="124.9" r="1.0"/><circle cx="1173.1" cy="116.0" r="1.0"/><circle cx="1181.9" cy="102.7" r="1.0"/><circle cx="1199.7" cy="116.0" r="1.0"/><circle cx="1204.2" cy="126.4" r="1.0"/><circle cx="1214.5" cy="102.7" r="1.0"/><circle cx="1220.4" cy="111.6" r="1.0"/><circle cx="1226.4" cy="114.6" r="1.0"/><circle cx="1230.8" cy="107.2" r="1.0"/><circle cx="1244.1" cy="104.2" r="1.0"/><circle cx="1244.1" cy="107.8" r="1.0"/><circle cx="940.7" cy="224.1" r="1.0"/><circle cx="943.6" cy="222.6" r="1.0"/><circle cx="946.6" cy="221.1" r="1.0"/><circle cx="949.6" cy="216.7" r="1.0"/><circle cx="951.0" cy="210.8" r="1.0"/><circle cx="951.0" cy="200.4" r="1.0"/><circle cx="952.5" cy="196.0" r="1.0"/><circle cx="954.0" cy="190.1" r="1.0"/><circle cx="955.5" cy="191.5" r="1.0"/><circle cx="957.0" cy="203.4" r="1.0"/><circle cx="957.6" cy="210.8" r="1.0"/><circle cx="958.4" cy="213.7" r="1.0"/><circle cx="959.9" cy="215.2" r="1.0"/><circle cx="961.4" cy="207.8" r="1.0"/><circle cx="962.9" cy="204.9" r="1.0"/><circle cx="964.4" cy="200.4" r="1.0"/><circle cx="965.8" cy="194.5" r="1.0"/><circle cx="967.3" cy="204.9" r="1.0"/><circle cx="965.8" cy="210.8" r="1.0"/><circle cx="964.4" cy="216.7" r="1.0"/><circle cx="954.0" cy="231.5" r="1.0"/><circle cx="949.6" cy="231.5" r="1.0"/><circle cx="952.5" cy="231.5" r="1.0"/><circle cx="983.0" cy="201.9" r="1.0"/><circle cx="994.0" cy="198.9" r="1.0"/><circle cx="1006.7" cy="189.2" r="1.0"/><circle cx="1025.1" cy="179.7" r="1.0"/><circle cx="1044.3" cy="175.3" r="1.0"/><circle cx="1063.5" cy="175.3" r="1.0"/><circle cx="1081.3" cy="164.9" r="1.0"/><circle cx="1084.3" cy="159.0" r="1.0"/><circle cx="1093.1" cy="163.4" r="1.0"/><circle cx="1142.0" cy="136.8" r="1.0"/><circle cx="1158.3" cy="129.4" r="1.0"/><circle cx="1181.9" cy="140.6" r="1.0"/><circle cx="1204.7" cy="140.6" r="1.0"/><circle cx="1204.2" cy="126.4" r="1.0"/><circle cx="1051.7" cy="148.6" r="1.0"/><circle cx="1050.2" cy="154.5" r="1.0"/><circle cx="1061.2" cy="139.1" r="1.0"/><circle cx="1062.9" cy="148.6" r="1.0"/><circle cx="1057.6" cy="142.7" r="1.0"/><circle cx="1072.4" cy="120.5" r="1.0"/><circle cx="1093.1" cy="159.0" r="1.0"/><circle cx="1081.3" cy="157.5" r="1.0"/><circle cx="959.9" cy="198.9" r="1.0"/><circle cx="956.4" cy="206.3" r="1.0"/><circle cx="953.4" cy="210.8" r="1.0"/><circle cx="957.6" cy="219.7" r="1.0"/><circle cx="961.4" cy="218.2" r="1.0"/><circle cx="948.1" cy="227.1" r="1.0"/><circle cx="945.1" cy="224.1" r="1.0"/><circle cx="972.4" cy="175.3" r="1.0"/><circle cx="977.7" cy="165.8" r="1.0"/><circle cx="1131.6" cy="120.5" r="1.0"/><circle cx="1125.7" cy="123.4" r="1.0"/><circle cx="1149.4" cy="109.5" r="1.0"/><circle cx="1176.0" cy="113.7" r="1.0"/><circle cx="1179.0" cy="114.6" r="1.0"/><circle cx="1217.5" cy="104.2" r="1.0"/></g>
<g fill="#000"><circle cx="939.2" cy="215.2" r="2.2"/><circle cx="939.2" cy="225.6" r="2.2"/><circle cx="949.6" cy="232.1" r="2.2"/><circle cx="951.6" cy="232.1" r="2.2"/><circle cx="953.4" cy="232.1" r="2.2"/></g>
<line x1="937.1" y1="213.2" x2="1244.7" y2="79.0" stroke="#ee3333" stroke-width="1.30"/>
<text x="1119.2" y="183.5" font-size="20.0" text-anchor="start" font-weight="normal" fill="#000" textLength="157.5" lengthAdjust="spacingAndGlyphs">f(x) = 0.02x + 0.5</text>
<text x="1119.2" y="206.3" font-size="20.0" text-anchor="start" font-weight="normal" fill="#000" textLength="85.8" lengthAdjust="spacingAndGlyphs">R&#178; = 0.82</text>
<line x1="90.4" y1="473.1" x2="90.4" y2="785.3" stroke="#000" stroke-width="2.20"/>
<line x1="86.4" y1="473.1" x2="90.4" y2="473.1" stroke="#000" stroke-width="2.00"/>
<text x="82.4" y="478.9" font-size="21.0" text-anchor="end" font-weight="normal" fill="#000">200</text>
<line x1="86.4" y1="535.3" x2="90.4" y2="535.3" stroke="#000" stroke-width="2.00"/>
<text x="82.4" y="541.1" font-size="21.0" text-anchor="end" font-weight="normal" fill="#000">160</text>
<line x1="86.4" y1="597.5" x2="90.4" y2="597.5" stroke="#000" stroke-width="2.00"/>
<text x="82.4" y="603.3" font-size="21.0" text-anchor="end" font-weight="normal" fill="#000">120</text>
<line x1="86.4" y1="659.7" x2="90.4" y2="659.7" stroke="#000" stroke-width="2.00"/>
<text x="82.4" y="665.5" font-size="21.0" text-anchor="end" font-weight="normal" fill="#000">80</text>
<line x1="86.4" y1="721.9" x2="90.4" y2="721.9" stroke="#000" stroke-width="2.00"/>
<text x="82.4" y="727.7" font-size="21.0" text-anchor="end" font-weight="normal" fill="#000">40</text>
<line x1="86.4" y1="784.1" x2="90.4" y2="784.1" stroke="#000" stroke-width="2.00"/>
<text x="82.4" y="789.9" font-size="21.0" text-anchor="end" font-weight="normal" fill="#000">0</text>
<line x1="89.4" y1="784.3" x2="586.8" y2="784.3" stroke="#000" stroke-width="2.20"/>
<line x1="90.3" y1="784.3" x2="90.3" y2="788.3" stroke="#000" stroke-width="2.00"/>
<text x="87.8" y="808.5" font-size="20.5" text-anchor="middle" font-weight="normal" fill="#000">0</text>
<line x1="161.1" y1="784.3" x2="161.1" y2="788.3" stroke="#000" stroke-width="2.00"/>
<text x="158.6" y="808.5" font-size="20.5" text-anchor="middle" font-weight="normal" fill="#000">100</text>
<line x1="231.8" y1="784.3" x2="231.8" y2="788.3" stroke="#000" stroke-width="2.00"/>
<text x="229.3" y="808.5" font-size="20.5" text-anchor="middle" font-weight="normal" fill="#000">200</text>
<line x1="302.6" y1="784.3" x2="302.6" y2="788.3" stroke="#000" stroke-width="2.00"/>
<text x="300.1" y="808.5" font-size="20.5" text-anchor="middle" font-weight="normal" fill="#000">300</text>
<line x1="373.4" y1="784.3" x2="373.4" y2="788.3" stroke="#000" stroke-width="2.00"/>
<text x="370.9" y="808.5" font-size="20.5" text-anchor="middle" font-weight="normal" fill="#000">400</text>
<line x1="444.2" y1="784.3" x2="444.2" y2="788.3" stroke="#000" stroke-width="2.00"/>
<text x="441.7" y="808.5" font-size="20.5" text-anchor="middle" font-weight="normal" fill="#000">500</text>
<line x1="514.9" y1="784.3" x2="514.9" y2="788.3" stroke="#000" stroke-width="2.00"/>
<text x="512.4" y="808.5" font-size="20.5" text-anchor="middle" font-weight="normal" fill="#000">600</text>
<line x1="585.7" y1="784.3" x2="585.7" y2="788.3" stroke="#000" stroke-width="2.00"/>
<text x="583.2" y="808.5" font-size="20.5" text-anchor="middle" font-weight="normal" fill="#000">700</text>
<line x1="585.8" y1="473.4" x2="585.8" y2="782.9" stroke="#000" stroke-width="2.20"/>
<line x1="585.8" y1="473.4" x2="589.8" y2="473.4" stroke="#000" stroke-width="2.00"/>
<line x1="585.8" y1="562.3" x2="589.8" y2="562.3" stroke="#000" stroke-width="2.00"/>
<line x1="585.8" y1="650.9" x2="589.8" y2="650.9" stroke="#000" stroke-width="2.00"/>
<line x1="585.8" y1="739.4" x2="589.8" y2="739.4" stroke="#000" stroke-width="2.00"/>
<line x1="585.8" y1="782.9" x2="589.8" y2="782.9" stroke="#000" stroke-width="2.00"/>
<text x="593.8" y="477.4" font-size="20.5" text-anchor="start" font-weight="normal" fill="#000">14350</text>
<text x="593.8" y="566.3" font-size="20.5" text-anchor="start" font-weight="normal" fill="#000">10350</text>
<text x="593.8" y="654.9" font-size="20.5" text-anchor="start" font-weight="normal" fill="#000">6350</text>
<text x="593.8" y="743.4" font-size="20.5" text-anchor="start" font-weight="normal" fill="#000">2350</text>
<polyline points="90.4,751.1 92.8,751.1 95.8,731.9 99.2,728.9 102.9,739.0 106.9,753.1 110.0,734.9 115.0,702.6 121.1,662.2 126.1,621.7 130.2,565.1 136.2,536.8 142.3,502.5 146.4,508.5 151.0,519.6 157.5,520.6 160.5,523.7 161.5,519.6 165.6,510.5 169.6,493.4 174.7,496.4 179.7,510.5 185.8,551.0 191.8,611.6 195.9,678.3 201.9,702.6 206.0,734.9 214.1,755.2 219.1,765.3 222.2,753.1 228.2,701.6 232.3,718.8 235.3,734.9 237.3,739.0 242.4,763.2 247.4,781.4 252.5,784.5 258.6,784.5 263.6,761.2 266.6,760.2 274.7,700.6 280.8,684.4 284.8,722.8 286.9,739.0 290.9,736.0 294.9,740.0 300.0,702.6 303.7,675.9 307.5,704.0 310.3,724.7 313.1,720.0 315.0,726.6 320.6,762.2 327.2,754.7 330.9,764.1 334.7,765.1 338.4,765.1 342.2,754.7 345.0,758.5 346.6,759.0 348.5,759.0 349.5,752.1 352.4,753.1 356.3,750.2 359.2,755.1 363.1,771.6 367.0,767.7 370.9,767.7 376.8,758.0 379.7,757.0 382.6,759.0 386.5,743.4 389.5,738.5 391.4,742.4 393.4,747.3 395.3,759.9 398.2,764.8 400.2,761.9 404.1,720.0 406.0,722.9 409.9,744.3 413.8,759.9 417.7,757.0 420.6,758.0 423.6,758.0 426.5,759.9 429.4,765.8 432.3,768.7 435.3,766.8 438.2,763.8 441.1,728.7 445.0,707.3 447.0,704.4 450.9,698.5 454.8,698.5 456.7,705.3 459.6,722.9 463.5,758.0 468.4,766.8 472.3,761.9 476.2,753.1 478.2,752.1 482.1,751.2 485.0,746.3 489.9,717.0 494.7,695.6 497.7,680.0 500.0,669.3 502.5,680.0 505.5,709.2 508.4,725.8 512.3,734.6 516.2,745.3 519.1,736.5 523.0,722.9 524.9,724.8 527.3,732.2" fill="none" stroke="#1010ee" stroke-width="2.20" stroke-linejoin="round"/>
<polyline points="91.0,783.2 94.0,781.9 98.8,777.6 103.7,778.9 108.5,780.7 110.3,780.1 111.5,771.5 112.7,765.9 115.7,765.3 117.5,760.4 119.3,758.5 121.1,757.3 121.7,753.0 122.9,732.1 125.3,664.4 127.7,633.0 129.5,652.1 130.7,663.2 132.5,663.2 133.8,639.8 135.0,590.5 136.2,570.8 137.4,571.5 138.6,590.5 141.0,645.9 143.4,666.8 145.8,673.0 148.8,673.6 149.4,652.1 150.6,590.5 151.8,527.8 153.0,529.0 154.2,559.8 156.0,590.5 156.6,604.1 157.8,586.8 159.6,580.7 160.2,578.2 160.8,529.0 161.4,516.7 163.2,510.5 164.4,490.2 165.7,490.8 166.9,508.1 168.7,553.6 171.6,648.5 173.7,677.2 175.8,698.7 178.6,720.2 181.4,738.1 184.9,751.7 189.8,760.3 196.8,767.5 207.3,773.2 222.0,776.4 223.1,775.4 224.9,760.3 226.3,746.7 227.7,743.8 229.1,750.3 231.2,760.3 234.0,768.9 238.9,773.2 243.8,775.4 251.8,777.5 256.6,778.1 269.3,778.6 277.7,776.4 280.8,764.1 284.0,769.5 288.2,774.9 292.4,775.5 295.5,776.4 298.7,760.9 301.8,739.4 305.0,716.8 307.1,728.7 309.2,750.2 312.4,767.4 315.5,758.8 317.6,760.9 320.8,771.7 328.1,777.0 340.8,778.1 342.9,775.5 347.1,778.1 369.8,779.8 384.5,780.3 390.8,778.1 395.0,779.4 405.5,779.4 413.9,779.8 426.5,780.3 439.2,780.3 441.3,773.4 444.4,766.9 447.6,765.9 451.8,766.5 456.0,769.1 460.2,774.5 466.5,778.8 477.0,779.8 485.4,779.8 489.6,775.5 493.8,769.1 498.0,764.8 501.2,755.1 503.3,760.5 506.4,766.9 510.7,769.1 512.8,768.0 517.0,772.3 520.1,773.4 523.3,765.9 525.4,766.9 529.6,773.4 535.9,778.8" fill="none" stroke="#000" stroke-width="2.00" stroke-linejoin="round"/>
<line x1="518.0" y1="680.0" x2="538.0" y2="680.0" stroke="#000" stroke-width="2.20"/>
<text x="540.0" y="686.5" font-size="20.5" text-anchor="start" font-weight="normal" fill="#000">SO<tspan font-size="80%" dy="0.28em">2</tspan><tspan dy="-0.22em">&#8203;</tspan></text>
<line x1="518.0" y1="696.6" x2="538.0" y2="696.6" stroke="#1010ee" stroke-width="2.20"/>
<text x="540.0" y="703.0" font-size="20.5" text-anchor="start" font-weight="normal" fill="#000">CO<tspan font-size="80%" dy="0.28em">2</tspan><tspan dy="-0.22em">&#8203;</tspan></text>
<text x="40.0" y="610.7" font-size="24.0" text-anchor="middle" font-weight="bold" fill="#000" textLength="119.0" lengthAdjust="spacingAndGlyphs" transform="rotate(-90.00 40.0 610.7)">SO<tspan font-size="80%" dy="0.28em">2</tspan><tspan dy="-0.22em">&#8203;</tspan> (ppm)</text>
<text x="671.5" y="615.0" font-size="24.0" text-anchor="middle" font-weight="bold" fill="#000" textLength="111.0" lengthAdjust="spacingAndGlyphs" transform="rotate(-90.00 671.5 615.0)">H<tspan font-size="80%" dy="0.28em">2</tspan><tspan dy="-0.22em">&#8203;</tspan>O(ppm)</text>
<text x="332.0" y="844.9" font-size="23.5" text-anchor="middle" font-weight="bold" fill="#000" textLength="155.7" lengthAdjust="spacingAndGlyphs">Duration (s)</text>
<line x1="290.4" y1="481.5" x2="290.4" y2="639.2" stroke="#333" stroke-width="1.20"/>
<line x1="287.4" y1="481.5" x2="290.4" y2="481.5" stroke="#333" stroke-width="1.20"/>
<text x="283.8" y="486.0" font-size="20.5" text-anchor="end" font-weight="normal" fill="#000">16000</text>
<line x1="287.4" y1="520.7" x2="290.4" y2="520.7" stroke="#333" stroke-width="1.20"/>
<text x="283.8" y="525.2" font-size="20.5" text-anchor="end" font-weight="normal" fill="#000">12000</text>
<line x1="287.4" y1="560.3" x2="290.4" y2="560.3" stroke="#333" stroke-width="1.20"/>
<text x="283.8" y="564.8" font-size="20.5" text-anchor="end" font-weight="normal" fill="#000">8000</text>
<line x1="287.4" y1="599.9" x2="290.4" y2="599.9" stroke="#333" stroke-width="1.20"/>
<text x="283.8" y="604.4" font-size="20.5" text-anchor="end" font-weight="normal" fill="#000">4000</text>
<line x1="287.4" y1="639.2" x2="290.4" y2="639.2" stroke="#333" stroke-width="1.20"/>
<text x="283.8" y="643.7" font-size="20.5" text-anchor="end" font-weight="normal" fill="#000">0</text>
<line x1="290.4" y1="639.2" x2="561.9" y2="639.2" stroke="#333" stroke-width="1.20"/>
<line x1="290.4" y1="639.2" x2="290.4" y2="642.2" stroke="#333" stroke-width="1.20"/>
<line x1="317.5" y1="639.2" x2="317.5" y2="642.2" stroke="#333" stroke-width="1.20"/>
<line x1="344.7" y1="639.2" x2="344.7" y2="642.2" stroke="#333" stroke-width="1.20"/>
<line x1="371.8" y1="639.2" x2="371.8" y2="642.2" stroke="#333" stroke-width="1.20"/>
<line x1="399.0" y1="639.2" x2="399.0" y2="642.2" stroke="#333" stroke-width="1.20"/>
<line x1="426.1" y1="639.2" x2="426.1" y2="642.2" stroke="#333" stroke-width="1.20"/>
<line x1="453.3" y1="639.2" x2="453.3" y2="642.2" stroke="#333" stroke-width="1.20"/>
<line x1="480.4" y1="639.2" x2="480.4" y2="642.2" stroke="#333" stroke-width="1.20"/>
<line x1="507.6" y1="639.2" x2="507.6" y2="642.2" stroke="#333" stroke-width="1.20"/>
<line x1="534.8" y1="639.2" x2="534.8" y2="642.2" stroke="#333" stroke-width="1.20"/>
<line x1="561.9" y1="639.2" x2="561.9" y2="642.2" stroke="#333" stroke-width="1.20"/>
<text x="319.0" y="657.9" font-size="18.5" text-anchor="middle" font-weight="normal" fill="#000">20</text>
<text x="364.6" y="657.9" font-size="18.5" text-anchor="middle" font-weight="normal" fill="#000">60</text>
<text x="422.4" y="657.9" font-size="18.5" text-anchor="middle" font-weight="normal" fill="#000">100</text>
<text x="477.3" y="657.9" font-size="18.5" text-anchor="middle" font-weight="normal" fill="#000">140</text>
<text x="532.1" y="657.9" font-size="18.5" text-anchor="middle" font-weight="normal" fill="#000">180</text>
<text x="425.2" y="683.0" font-size="20.0" text-anchor="middle" font-weight="normal" fill="#000" textLength="101.0" lengthAdjust="spacingAndGlyphs">SO<tspan font-size="80%" dy="0.28em">2</tspan><tspan dy="-0.22em">&#8203;</tspan> (ppm)</text>
<text x="216.0" y="544.5" font-size="20.0" text-anchor="middle" font-weight="normal" fill="#000" textLength="101.0" lengthAdjust="spacingAndGlyphs" transform="rotate(-90.00 216.0 544.5)">H<tspan font-size="80%" dy="0.28em">2</tspan><tspan dy="-0.22em">&#8203;</tspan>O (ppm)</text>
<g fill="#000"><circle cx="292.4" cy="615.2" r="1.2"/><circle cx="293.3" cy="612.1" r="1.2"/><circle cx="294.3" cy="609.1" r="1.2"/><circle cx="295.2" cy="606.0" r="1.2"/><circle cx="296.1" cy="602.9" r="1.2"/><circle cx="297.0" cy="599.9" r="1.2"/><circle cx="297.9" cy="596.8" r="1.2"/><circle cx="298.9" cy="593.7" r="1.2"/><circle cx="299.8" cy="590.7" r="1.2"/><circle cx="300.7" cy="587.6" r="1.2"/><circle cx="301.5" cy="584.5" r="1.2"/><circle cx="302.3" cy="581.4" r="1.2"/><circle cx="303.1" cy="578.3" r="1.2"/><circle cx="303.9" cy="575.2" r="1.2"/><circle cx="304.5" cy="572.1" r="1.2"/><circle cx="305.1" cy="568.9" r="1.2"/><circle cx="305.8" cy="565.8" r="1.2"/><circle cx="306.4" cy="562.6" r="1.2"/><circle cx="307.1" cy="559.5" r="1.2"/><circle cx="307.8" cy="556.4" r="1.2"/><circle cx="308.6" cy="553.3" r="1.2"/><circle cx="309.4" cy="550.2" r="1.2"/><circle cx="310.3" cy="547.1" r="1.2"/><circle cx="311.3" cy="544.1" r="1.2"/><circle cx="312.3" cy="541.1" r="1.2"/><circle cx="313.6" cy="538.1" r="1.2"/><circle cx="315.0" cy="535.3" r="1.2"/><circle cx="316.8" cy="532.7" r="1.2"/><circle cx="318.8" cy="530.2" r="1.2"/><circle cx="320.8" cy="527.7" r="1.2"/><circle cx="323.3" cy="525.6" r="1.2"/><circle cx="325.8" cy="523.7" r="1.2"/><circle cx="328.5" cy="521.9" r="1.2"/><circle cx="331.2" cy="520.3" r="1.2"/><circle cx="334.0" cy="518.7" r="1.2"/><circle cx="336.9" cy="517.3" r="1.2"/><circle cx="339.7" cy="515.8" r="1.2"/><circle cx="342.6" cy="514.4" r="1.2"/><circle cx="345.5" cy="513.2" r="1.2"/><circle cx="348.6" cy="512.3" r="1.2"/><circle cx="351.7" cy="511.4" r="1.2"/><circle cx="354.8" cy="510.6" r="1.2"/><circle cx="357.9" cy="510.0" r="1.2"/><circle cx="361.1" cy="509.6" r="1.2"/><circle cx="364.3" cy="509.1" r="1.2"/><circle cx="367.4" cy="508.6" r="1.2"/><circle cx="370.6" cy="508.5" r="1.2"/><circle cx="373.8" cy="508.3" r="1.2"/><circle cx="377.0" cy="508.1" r="1.2"/><circle cx="380.2" cy="508.0" r="1.2"/><circle cx="383.4" cy="507.8" r="1.2"/><circle cx="390.6" cy="507.5" r="1.2"/><circle cx="402.2" cy="507.2" r="1.2"/><circle cx="413.7" cy="507.2" r="1.2"/><circle cx="425.3" cy="506.9" r="1.2"/><circle cx="439.7" cy="507.2" r="1.2"/><circle cx="454.2" cy="507.7" r="1.2"/><circle cx="468.6" cy="507.5" r="1.2"/><circle cx="488.8" cy="508.3" r="1.2"/><circle cx="511.9" cy="509.8" r="1.2"/><circle cx="535.0" cy="511.2" r="1.2"/><circle cx="548.0" cy="512.7" r="1.2"/><circle cx="384.8" cy="514.1" r="1.2"/><circle cx="387.7" cy="511.2" r="1.2"/><circle cx="399.3" cy="515.5" r="1.2"/><circle cx="407.9" cy="512.7" r="1.2"/><circle cx="428.2" cy="517.0" r="1.2"/><circle cx="446.9" cy="518.4" r="1.2"/><circle cx="454.2" cy="519.9" r="1.2"/><circle cx="461.4" cy="518.4" r="1.2"/><circle cx="467.1" cy="519.9" r="1.2"/><circle cx="474.4" cy="521.3" r="1.2"/><circle cx="477.3" cy="522.8" r="1.2"/><circle cx="488.8" cy="518.4" r="1.2"/><circle cx="494.6" cy="518.4" r="1.2"/><circle cx="506.1" cy="518.4" r="1.2"/><circle cx="514.8" cy="518.4" r="1.2"/><circle cx="524.9" cy="517.0" r="1.2"/><circle cx="535.0" cy="515.5" r="1.2"/><circle cx="546.6" cy="514.1" r="1.2"/><circle cx="455.6" cy="525.6" r="1.2"/><circle cx="475.8" cy="525.6" r="1.2"/><circle cx="394.9" cy="534.3" r="1.2"/><circle cx="396.4" cy="538.6" r="1.2"/><circle cx="400.7" cy="541.5" r="1.2"/><circle cx="405.1" cy="531.4" r="1.2"/><circle cx="410.8" cy="544.4" r="1.2"/><circle cx="413.7" cy="547.3" r="1.2"/><circle cx="419.5" cy="548.8" r="1.2"/><circle cx="420.9" cy="553.1" r="1.2"/><circle cx="429.6" cy="528.5" r="1.2"/><circle cx="410.8" cy="557.4" r="1.2"/><circle cx="396.4" cy="561.8" r="1.2"/><circle cx="379.1" cy="564.6" r="1.2"/><circle cx="363.2" cy="567.5" r="1.2"/><circle cx="347.3" cy="570.4" r="1.2"/><circle cx="337.2" cy="573.3" r="1.2"/><circle cx="327.1" cy="576.2" r="1.2"/><circle cx="318.4" cy="577.6" r="1.2"/><circle cx="321.3" cy="597.9" r="1.2"/><circle cx="330.0" cy="595.0" r="1.2"/><circle cx="338.6" cy="592.1" r="1.2"/><circle cx="347.3" cy="587.7" r="1.2"/><circle cx="315.5" cy="600.7" r="1.2"/><circle cx="309.7" cy="603.6" r="1.2"/><circle cx="304.0" cy="609.4" r="1.2"/><circle cx="386.3" cy="511.2" r="1.2"/><circle cx="390.6" cy="508.3" r="1.2"/><circle cx="402.2" cy="508.3" r="1.2"/><circle cx="418.1" cy="511.2" r="1.2"/><circle cx="433.9" cy="508.3" r="1.2"/><circle cx="451.3" cy="506.9" r="1.2"/><circle cx="459.9" cy="517.0" r="1.2"/><circle cx="471.5" cy="518.4" r="1.2"/><circle cx="526.4" cy="518.4" r="1.2"/></g>
<polygon points="290.5,639.5 290.5,612.0 292.5,604.0 295.0,599.0 299.0,601.0 303.0,603.0 307.0,604.0 308.5,607.0 304.0,610.0 299.0,613.0 296.0,618.0 294.5,626.0 295.0,636.0 293.5,639.5" fill="#000" stroke="#000" stroke-width="1.00" stroke-linejoin="round"/>
<g fill="#000"><circle cx="299.5" cy="598.9" r="1.0"/><circle cx="295.2" cy="610.2" r="1.0"/><circle cx="299.5" cy="600.2" r="1.0"/><circle cx="300.6" cy="592.4" r="1.0"/><circle cx="301.2" cy="603.1" r="1.0"/><circle cx="297.1" cy="590.3" r="1.0"/><circle cx="307.2" cy="590.2" r="1.0"/><circle cx="291.5" cy="604.6" r="1.0"/><circle cx="298.9" cy="611.6" r="1.0"/><circle cx="298.7" cy="603.7" r="1.0"/><circle cx="291.3" cy="591.8" r="1.0"/><circle cx="291.8" cy="600.7" r="1.0"/><circle cx="295.5" cy="592.6" r="1.0"/><circle cx="300.7" cy="588.7" r="1.0"/><circle cx="304.0" cy="598.6" r="1.0"/><circle cx="300.2" cy="600.5" r="1.0"/><circle cx="300.7" cy="600.0" r="1.0"/><circle cx="295.2" cy="599.0" r="1.0"/><circle cx="299.0" cy="611.9" r="1.0"/><circle cx="298.2" cy="608.2" r="1.0"/><circle cx="294.9" cy="595.6" r="1.0"/><circle cx="292.2" cy="594.9" r="1.0"/><circle cx="295.4" cy="606.4" r="1.0"/><circle cx="294.9" cy="608.3" r="1.0"/><circle cx="298.2" cy="611.0" r="1.0"/><circle cx="295.4" cy="588.0" r="1.0"/><circle cx="295.3" cy="609.8" r="1.0"/><circle cx="294.3" cy="611.5" r="1.0"/><circle cx="303.7" cy="589.8" r="1.0"/><circle cx="293.9" cy="606.7" r="1.0"/><circle cx="297.7" cy="590.1" r="1.0"/><circle cx="297.4" cy="611.1" r="1.0"/><circle cx="295.8" cy="590.8" r="1.0"/><circle cx="292.2" cy="590.4" r="1.0"/><circle cx="292.9" cy="607.1" r="1.0"/><circle cx="297.2" cy="601.4" r="1.0"/><circle cx="304.7" cy="592.6" r="1.0"/><circle cx="303.5" cy="591.1" r="1.0"/><circle cx="299.3" cy="590.8" r="1.0"/><circle cx="296.0" cy="593.1" r="1.0"/><circle cx="297.7" cy="611.3" r="1.0"/><circle cx="306.2" cy="595.3" r="1.0"/><circle cx="298.3" cy="593.1" r="1.0"/><circle cx="297.4" cy="608.5" r="1.0"/><circle cx="310.7" cy="590.4" r="1.0"/><circle cx="295.7" cy="593.1" r="1.0"/><circle cx="294.6" cy="606.5" r="1.0"/><circle cx="292.3" cy="595.1" r="1.0"/><circle cx="302.7" cy="590.2" r="1.0"/><circle cx="301.8" cy="593.8" r="1.0"/><circle cx="298.4" cy="596.9" r="1.0"/><circle cx="295.1" cy="611.0" r="1.0"/><circle cx="302.8" cy="601.8" r="1.0"/><circle cx="293.9" cy="592.4" r="1.0"/><circle cx="298.5" cy="609.8" r="1.0"/><circle cx="294.4" cy="594.0" r="1.0"/><circle cx="301.8" cy="605.7" r="1.0"/><circle cx="308.7" cy="592.7" r="1.0"/><circle cx="296.8" cy="609.2" r="1.0"/><circle cx="292.6" cy="598.1" r="1.0"/><circle cx="310.9" cy="588.9" r="1.0"/><circle cx="303.7" cy="593.7" r="1.0"/><circle cx="305.7" cy="594.2" r="1.0"/><circle cx="294.9" cy="602.3" r="1.0"/><circle cx="304.6" cy="592.2" r="1.0"/><circle cx="295.6" cy="589.7" r="1.0"/><circle cx="302.8" cy="601.4" r="1.0"/><circle cx="294.7" cy="602.7" r="1.0"/><circle cx="292.9" cy="610.0" r="1.0"/><circle cx="296.6" cy="588.4" r="1.0"/><circle cx="291.9" cy="598.7" r="1.0"/><circle cx="298.0" cy="592.2" r="1.0"/><circle cx="292.8" cy="601.7" r="1.0"/><circle cx="305.6" cy="596.7" r="1.0"/><circle cx="296.4" cy="611.5" r="1.0"/><circle cx="298.1" cy="604.6" r="1.0"/><circle cx="291.7" cy="591.4" r="1.0"/><circle cx="310.1" cy="588.4" r="1.0"/><circle cx="302.5" cy="604.8" r="1.0"/><circle cx="304.3" cy="588.5" r="1.0"/><circle cx="301.8" cy="599.6" r="1.0"/><circle cx="308.0" cy="595.7" r="1.0"/><circle cx="302.0" cy="589.8" r="1.0"/><circle cx="301.3" cy="605.7" r="1.0"/><circle cx="299.1" cy="605.7" r="1.0"/><circle cx="300.8" cy="607.0" r="1.0"/><circle cx="302.3" cy="596.4" r="1.0"/><circle cx="299.1" cy="609.6" r="1.0"/><circle cx="303.4" cy="598.0" r="1.0"/><circle cx="296.6" cy="608.7" r="1.0"/><circle cx="296.0" cy="603.0" r="1.0"/><circle cx="299.2" cy="602.0" r="1.0"/><circle cx="303.9" cy="589.9" r="1.0"/><circle cx="298.1" cy="611.8" r="1.0"/><circle cx="295.5" cy="605.5" r="1.0"/><circle cx="297.7" cy="605.6" r="1.0"/><circle cx="303.9" cy="598.6" r="1.0"/><circle cx="306.1" cy="590.0" r="1.0"/><circle cx="303.5" cy="588.7" r="1.0"/><circle cx="294.4" cy="599.5" r="1.0"/><circle cx="297.0" cy="604.8" r="1.0"/><circle cx="303.0" cy="602.7" r="1.0"/><circle cx="291.2" cy="594.1" r="1.0"/><circle cx="302.7" cy="595.2" r="1.0"/><circle cx="294.1" cy="592.9" r="1.0"/><circle cx="297.1" cy="609.7" r="1.0"/><circle cx="304.7" cy="598.6" r="1.0"/><circle cx="302.2" cy="595.8" r="1.0"/><circle cx="299.0" cy="592.8" r="1.0"/><circle cx="300.7" cy="607.3" r="1.0"/><circle cx="296.0" cy="623.0" r="1.0"/><circle cx="297.6" cy="621.2" r="1.0"/><circle cx="299.2" cy="619.4" r="1.0"/><circle cx="300.8" cy="617.6" r="1.0"/><circle cx="302.4" cy="615.8" r="1.0"/><circle cx="304.0" cy="614.0" r="1.0"/><circle cx="305.6" cy="612.2" r="1.0"/><circle cx="307.2" cy="610.4" r="1.0"/><circle cx="304.0" cy="615.0" r="1.0"/><circle cx="306.0" cy="613.8" r="1.0"/><circle cx="308.0" cy="612.6" r="1.0"/><circle cx="310.0" cy="611.4" r="1.0"/><circle cx="312.0" cy="610.2" r="1.0"/><circle cx="314.0" cy="609.0" r="1.0"/><circle cx="300.0" cy="624.5" r="1.0"/><circle cx="302.6" cy="621.1" r="1.0"/><circle cx="304.2" cy="617.2" r="1.0"/><circle cx="305.5" cy="613.6" r="1.0"/></g>
<line x1="290.4" y1="616.0" x2="513.4" y2="481.5" stroke="#ee3333" stroke-width="1.30"/>
<text x="378.5" y="587.7" font-size="20.0" text-anchor="start" font-weight="normal" fill="#000" textLength="186.8" lengthAdjust="spacingAndGlyphs">f(x) = 83.57x + 2301</text>
<text x="378.5" y="608.0" font-size="20.0" text-anchor="start" font-weight="normal" fill="#000" textLength="85.8" lengthAdjust="spacingAndGlyphs">R&#178; = 0.72</text>
<line x1="789.2" y1="472.3" x2="789.2" y2="784.3" stroke="#000" stroke-width="2.20"/>
<line x1="785.2" y1="472.3" x2="789.2" y2="472.3" stroke="#000" stroke-width="2.00"/>
<text x="781.2" y="478.7" font-size="21.0" text-anchor="end" font-weight="normal" fill="#000">200</text>
<line x1="785.2" y1="534.3" x2="789.2" y2="534.3" stroke="#000" stroke-width="2.00"/>
<text x="781.2" y="540.7" font-size="21.0" text-anchor="end" font-weight="normal" fill="#000">160</text>
<line x1="785.2" y1="596.3" x2="789.2" y2="596.3" stroke="#000" stroke-width="2.00"/>
<text x="781.2" y="602.7" font-size="21.0" text-anchor="end" font-weight="normal" fill="#000">120</text>
<line x1="785.2" y1="658.4" x2="789.2" y2="658.4" stroke="#000" stroke-width="2.00"/>
<text x="781.2" y="664.8" font-size="21.0" text-anchor="end" font-weight="normal" fill="#000">80</text>
<line x1="785.2" y1="720.4" x2="789.2" y2="720.4" stroke="#000" stroke-width="2.00"/>
<text x="781.2" y="726.8" font-size="21.0" text-anchor="end" font-weight="normal" fill="#000">40</text>
<line x1="785.2" y1="782.4" x2="789.2" y2="782.4" stroke="#000" stroke-width="2.00"/>
<text x="781.2" y="788.8" font-size="21.0" text-anchor="end" font-weight="normal" fill="#000">0</text>
<line x1="788.2" y1="783.3" x2="1291.1" y2="783.3" stroke="#000" stroke-width="2.20"/>
<line x1="789.5" y1="783.3" x2="789.5" y2="787.3" stroke="#000" stroke-width="2.00"/>
<text x="787.0" y="807.7" font-size="20.5" text-anchor="middle" font-weight="normal" fill="#000">0</text>
<line x1="861.0" y1="783.3" x2="861.0" y2="787.3" stroke="#000" stroke-width="2.00"/>
<text x="858.5" y="807.7" font-size="20.5" text-anchor="middle" font-weight="normal" fill="#000">100</text>
<line x1="932.5" y1="783.3" x2="932.5" y2="787.3" stroke="#000" stroke-width="2.00"/>
<text x="930.0" y="807.7" font-size="20.5" text-anchor="middle" font-weight="normal" fill="#000">200</text>
<line x1="1004.0" y1="783.3" x2="1004.0" y2="787.3" stroke="#000" stroke-width="2.00"/>
<text x="1001.5" y="807.7" font-size="20.5" text-anchor="middle" font-weight="normal" fill="#000">300</text>
<line x1="1075.5" y1="783.3" x2="1075.5" y2="787.3" stroke="#000" stroke-width="2.00"/>
<text x="1073.0" y="807.7" font-size="20.5" text-anchor="middle" font-weight="normal" fill="#000">400</text>
<line x1="1147.0" y1="783.3" x2="1147.0" y2="787.3" stroke="#000" stroke-width="2.00"/>
<text x="1144.5" y="807.7" font-size="20.5" text-anchor="middle" font-weight="normal" fill="#000">500</text>
<line x1="1218.6" y1="783.3" x2="1218.6" y2="787.3" stroke="#000" stroke-width="2.00"/>
<text x="1216.1" y="807.7" font-size="20.5" text-anchor="middle" font-weight="normal" fill="#000">600</text>
<line x1="1290.1" y1="783.3" x2="1290.1" y2="787.3" stroke="#000" stroke-width="2.00"/>
<text x="1287.6" y="807.7" font-size="20.5" text-anchor="middle" font-weight="normal" fill="#000">700</text>
<line x1="1290.1" y1="468.8" x2="1290.1" y2="778.9" stroke="#000" stroke-width="2.20"/>
<line x1="1290.1" y1="468.8" x2="1294.1" y2="468.8" stroke="#000" stroke-width="2.00"/>
<line x1="1290.1" y1="546.4" x2="1294.1" y2="546.4" stroke="#000" stroke-width="2.00"/>
<line x1="1290.1" y1="624.0" x2="1294.1" y2="624.0" stroke="#000" stroke-width="2.00"/>
<line x1="1290.1" y1="702.2" x2="1294.1" y2="702.2" stroke="#000" stroke-width="2.00"/>
<line x1="1290.1" y1="778.9" x2="1294.1" y2="778.9" stroke="#000" stroke-width="2.00"/>
<text x="1298.1" y="475.3" font-size="20.5" text-anchor="start" font-weight="normal" fill="#000">1150</text>
<text x="1298.1" y="552.9" font-size="20.5" text-anchor="start" font-weight="normal" fill="#000">950</text>
<text x="1298.1" y="630.5" font-size="20.5" text-anchor="start" font-weight="normal" fill="#000">750</text>
<text x="1298.1" y="708.7" font-size="20.5" text-anchor="start" font-weight="normal" fill="#000">550</text>
<text x="1298.1" y="785.4" font-size="20.5" text-anchor="start" font-weight="normal" fill="#000">350</text>
<polyline points="789.7,766.4 792.8,765.6 795.1,749.3 797.4,737.7 799.7,747.0 802.1,750.9 804.4,756.3 808.3,761.0 810.6,754.8 811.4,712.1 814.5,710.5 816.0,709.7 817.6,689.6 819.9,688.8 821.5,680.3 823.8,615.1 826.9,524.2 828.5,525.0 830.0,546.8 831.6,547.5 832.3,556.8 835.5,491.6 837.0,503.3 839.3,542.1 841.7,613.5 843.2,615.8 844.8,629.0 847.1,639.9 851.8,535.9 854.9,582.5 856.4,591.8 857.2,582.5 859.5,587.1 861.1,549.9 862.6,548.3 864.9,529.7 866.5,543.6 868.8,588.7 871.9,635.2 875.0,666.3 879.7,705.1 882.0,728.4 884.4,737.7 887.5,750.1 890.6,757.9 893.7,764.1 896.8,767.2 899.9,764.1 903.0,765.6 906.1,764.9 909.2,767.2 913.8,767.2 920.1,766.4 922.4,765.6 924.7,753.2 927.8,754.8 930.9,757.9 934.0,762.5 938.7,764.9 944.9,766.4 952.7,767.2 955.8,765.6 962.0,765.6 965.1,763.3 968.2,765.6 971.3,762.5 974.4,761.0 977.5,761.8 980.6,759.4 983.7,764.1 986.8,765.6 993.0,765.6 1000.0,764.1 1001.4,767.6 1003.6,757.1 1005.9,745.4 1007.5,747.9 1010.1,757.6 1011.8,760.2 1014.0,764.6 1016.1,765.9 1017.7,766.0 1020.4,766.7 1022.9,765.7 1024.4,765.1 1026.7,768.3 1028.1,764.4 1030.3,765.4 1032.9,765.4 1035.7,767.6 1038.3,767.3 1041.0,764.3 1042.6,769.4 1044.3,763.7 1046.4,766.0 1048.3,766.8 1050.2,767.9 1052.5,766.3 1055.2,765.7 1058.0,764.5 1060.8,765.7 1062.5,764.4 1065.3,764.1 1067.5,765.4 1069.3,764.6 1071.5,768.4 1073.1,764.5 1075.9,769.7 1078.5,767.5 1080.1,768.3 1082.6,764.4 1084.1,766.1 1085.6,765.4 1087.5,764.3 1090.4,766.9 1093.2,768.2 1094.8,766.2 1096.2,769.0 1098.3,766.1 1099.9,770.0 1102.6,768.2 1105.4,764.2 1107.4,767.2 1109.5,765.9 1111.8,766.5 1114.1,763.9 1116.3,767.4 1118.7,768.7 1120.6,763.6 1122.8,766.6 1124.2,767.5 1126.5,770.2 1128.8,766.0 1130.3,766.0 1132.4,765.7 1134.3,765.5 1136.8,770.2 1138.4,765.7 1141.2,768.6 1143.2,766.3 1145.1,767.8 1147.0,767.8 1149.3,763.6 1151.3,760.4 1152.7,761.8 1155.2,763.5 1157.0,760.2 1158.7,764.4 1160.8,760.9 1162.4,768.1 1164.3,764.6 1166.3,764.5 1168.0,768.0 1170.4,764.3 1172.4,768.8 1174.0,766.7 1175.7,764.8 1178.4,769.1 1180.2,764.8 1182.5,764.8 1184.5,769.4 1186.3,764.9 1188.1,767.9 1190.2,767.4 1192.2,764.0 1193.8,770.3 1196.6,764.3 1199.4,763.8 1202.2,754.4 1204.0,756.9 1206.6,763.1 1208.8,768.3 1210.7,768.8 1212.2,766.3 1214.1,764.8 1215.6,764.1 1218.0,764.0 1220.7,764.2 1223.0,770.2 1225.5,769.1 1227.3,765.8" fill="none" stroke="#ee1111" stroke-width="2.00" stroke-linejoin="round"/>
<polyline points="790.2,781.5 793.3,780.2 798.1,775.9 803.0,777.2 807.9,779.0 809.7,778.4 810.9,769.8 812.1,764.3 815.2,763.7 817.0,758.8 818.8,756.9 820.6,755.7 821.2,751.4 822.5,730.5 824.9,663.0 827.3,631.7 829.1,650.8 830.4,661.8 832.2,661.8 833.4,638.5 834.6,589.4 835.8,569.8 837.1,570.4 838.3,589.4 840.7,644.6 843.1,665.5 845.6,671.6 848.6,672.2 849.2,650.8 850.4,589.4 851.7,526.8 852.9,528.0 854.1,558.7 855.9,589.4 856.5,602.9 857.7,585.7 859.6,579.6 860.2,577.1 860.8,528.0 861.4,515.8 863.2,509.6 864.4,489.4 865.6,490.0 866.9,507.2 868.7,552.6 871.6,647.2 873.8,675.8 875.9,697.2 878.7,718.7 881.5,736.5 885.1,750.1 890.0,758.7 897.1,765.8 907.8,771.5 922.6,774.8 923.7,773.7 925.5,758.7 926.9,745.1 928.3,742.2 929.7,748.7 931.8,758.7 934.7,767.3 939.6,771.5 944.6,773.7 952.7,775.8 957.6,776.4 970.3,776.9 978.8,774.7 982.0,762.5 985.2,767.9 989.5,773.2 993.7,773.9 996.9,774.7 1000.1,759.3 1003.3,737.8 1006.4,715.3 1008.6,727.1 1010.7,748.6 1013.9,765.7 1017.1,757.1 1019.2,759.3 1022.4,770.0 1029.8,775.4 1042.6,776.4 1044.7,773.9 1048.9,776.4 1071.9,778.2 1086.8,778.6 1093.1,776.4 1097.4,777.7 1108.0,777.7 1116.5,778.2 1129.3,778.6 1142.0,778.6 1144.1,771.7 1147.3,765.3 1150.5,764.2 1154.8,764.9 1159.0,767.4 1163.3,772.8 1169.6,777.1 1180.3,778.2 1188.8,778.2 1193.0,773.9 1197.3,767.4 1201.5,763.1 1204.7,753.5 1206.8,758.9 1210.0,765.3 1214.3,767.4 1216.4,766.4 1220.6,770.7 1223.8,771.7 1227.0,764.2 1229.1,765.3 1233.4,771.7 1239.7,777.1" fill="none" stroke="#000" stroke-width="2.00" stroke-linejoin="round"/>
<line x1="1212.0" y1="724.5" x2="1233.0" y2="724.5" stroke="#000" stroke-width="2.20"/>
<text x="1235.0" y="731.0" font-size="20.5" text-anchor="start" font-weight="normal" fill="#000">SO<tspan font-size="80%" dy="0.28em">2</tspan><tspan dy="-0.22em">&#8203;</tspan></text>
<line x1="1212.0" y1="742.8" x2="1233.0" y2="742.8" stroke="#ee1111" stroke-width="2.20"/>
<text x="1235.0" y="749.3" font-size="20.5" text-anchor="start" font-weight="normal" fill="#000">CO<tspan font-size="80%" dy="0.28em">2</tspan><tspan dy="-0.22em">&#8203;</tspan></text>
<text x="734.0" y="604.0" font-size="24.0" text-anchor="middle" font-weight="bold" fill="#000" textLength="119.0" lengthAdjust="spacingAndGlyphs" transform="rotate(-90.00 734.0 604.0)">SO<tspan font-size="80%" dy="0.28em">2</tspan><tspan dy="-0.22em">&#8203;</tspan> (ppm)</text>
<text x="1355.0" y="617.0" font-size="24.0" text-anchor="middle" font-weight="bold" fill="#000" textLength="118.0" lengthAdjust="spacingAndGlyphs" transform="rotate(-90.00 1355.0 617.0)">CO<tspan font-size="80%" dy="0.28em">2</tspan><tspan dy="-0.22em">&#8203;</tspan> (ppm)</text>
<text x="1025.8" y="842.9" font-size="23.5" text-anchor="middle" font-weight="bold" fill="#000" textLength="155.7" lengthAdjust="spacingAndGlyphs">Duration (s)</text>
<line x1="945.8" y1="487.1" x2="945.8" y2="662.7" stroke="#000" stroke-width="2.00"/>
<line x1="941.8" y1="487.1" x2="945.8" y2="487.1" stroke="#000" stroke-width="2.00"/>
<text x="940.0" y="492.1" font-size="20.5" text-anchor="end" font-weight="normal" fill="#000">1300</text>
<line x1="941.8" y1="521.7" x2="945.8" y2="521.7" stroke="#000" stroke-width="2.00"/>
<line x1="941.8" y1="556.3" x2="945.8" y2="556.3" stroke="#000" stroke-width="2.00"/>
<text x="940.0" y="561.3" font-size="20.5" text-anchor="end" font-weight="normal" fill="#000">900</text>
<line x1="941.8" y1="591.6" x2="945.8" y2="591.6" stroke="#000" stroke-width="2.00"/>
<line x1="941.8" y1="627.0" x2="945.8" y2="627.0" stroke="#000" stroke-width="2.00"/>
<text x="940.0" y="632.0" font-size="20.5" text-anchor="end" font-weight="normal" fill="#000">500</text>
<line x1="945.8" y1="662.7" x2="1263.8" y2="662.7" stroke="#000" stroke-width="2.00"/>
<line x1="945.8" y1="662.7" x2="945.8" y2="666.7" stroke="#000" stroke-width="2.00"/>
<text x="945.8" y="687.0" font-size="20.5" text-anchor="middle" font-weight="normal" fill="#000">0</text>
<line x1="1009.4" y1="662.7" x2="1009.4" y2="666.7" stroke="#000" stroke-width="2.00"/>
<text x="1009.4" y="687.0" font-size="20.5" text-anchor="middle" font-weight="normal" fill="#000">40</text>
<line x1="1073.0" y1="662.7" x2="1073.0" y2="666.7" stroke="#000" stroke-width="2.00"/>
<text x="1073.0" y="687.0" font-size="20.5" text-anchor="middle" font-weight="normal" fill="#000">80</text>
<line x1="1136.6" y1="662.7" x2="1136.6" y2="666.7" stroke="#000" stroke-width="2.00"/>
<text x="1136.6" y="687.0" font-size="20.5" text-anchor="middle" font-weight="normal" fill="#000">120</text>
<line x1="1200.2" y1="662.7" x2="1200.2" y2="666.7" stroke="#000" stroke-width="2.00"/>
<text x="1200.2" y="687.0" font-size="20.5" text-anchor="middle" font-weight="normal" fill="#000">160</text>
<line x1="1263.8" y1="662.7" x2="1263.8" y2="666.7" stroke="#000" stroke-width="2.00"/>
<text x="1263.8" y="687.0" font-size="20.5" text-anchor="middle" font-weight="normal" fill="#000">200</text>
<text x="1103.0" y="707.2" font-size="20.5" text-anchor="middle" font-weight="normal" fill="#000" textLength="101.0" lengthAdjust="spacingAndGlyphs">SO<tspan font-size="80%" dy="0.28em">2</tspan><tspan dy="-0.22em">&#8203;</tspan> (ppm)</text>
<text x="896.0" y="568.7" font-size="20.5" text-anchor="middle" font-weight="normal" fill="#000" textLength="128.0" lengthAdjust="spacingAndGlyphs" transform="rotate(-90.00 896.0 568.7)">CO<tspan font-size="80%" dy="0.28em">2</tspan><tspan dy="-0.22em">&#8203;</tspan> (ppm v)</text>
<g fill="#000"><circle cx="952.2" cy="637.9" r="1.2"/><circle cx="962.1" cy="623.1" r="1.2"/><circle cx="969.5" cy="618.2" r="1.2"/><circle cx="974.5" cy="613.2" r="1.2"/><circle cx="979.4" cy="609.3" r="1.2"/><circle cx="989.3" cy="598.4" r="1.2"/><circle cx="1001.7" cy="589.5" r="1.2"/><circle cx="1014.1" cy="583.5" r="1.2"/><circle cx="1031.4" cy="576.1" r="1.2"/><circle cx="1051.2" cy="563.8" r="1.2"/><circle cx="1066.0" cy="551.4" r="1.2"/><circle cx="1068.5" cy="546.4" r="1.2"/><circle cx="1070.9" cy="539.0" r="1.2"/><circle cx="1075.9" cy="541.5" r="1.2"/><circle cx="1085.8" cy="536.6" r="1.2"/><circle cx="1095.7" cy="535.1" r="1.2"/><circle cx="1103.1" cy="536.6" r="1.2"/><circle cx="1110.5" cy="538.0" r="1.2"/><circle cx="1129.3" cy="541.5" r="1.2"/><circle cx="1140.2" cy="526.7" r="1.2"/><circle cx="1162.4" cy="519.2" r="1.2"/><circle cx="1164.9" cy="523.2" r="1.2"/><circle cx="1130.3" cy="553.9" r="1.2"/><circle cx="1135.2" cy="561.3" r="1.2"/><circle cx="1147.6" cy="562.8" r="1.2"/><circle cx="1152.5" cy="564.7" r="1.2"/><circle cx="1155.0" cy="556.3" r="1.2"/><circle cx="1164.9" cy="553.9" r="1.2"/><circle cx="1179.7" cy="551.4" r="1.2"/><circle cx="1184.7" cy="556.3" r="1.2"/><circle cx="1199.5" cy="544.0" r="1.2"/><circle cx="1206.9" cy="547.9" r="1.2"/><circle cx="1219.3" cy="546.4" r="1.2"/><circle cx="1224.3" cy="546.9" r="1.2"/><circle cx="1231.7" cy="541.5" r="1.2"/><circle cx="1234.2" cy="547.9" r="1.2"/><circle cx="1248.0" cy="538.0" r="1.2"/><circle cx="1056.1" cy="588.5" r="1.2"/><circle cx="1058.6" cy="583.5" r="1.2"/><circle cx="1063.5" cy="577.6" r="1.2"/><circle cx="1068.5" cy="573.6" r="1.2"/><circle cx="1075.9" cy="583.5" r="1.2"/><circle cx="1085.8" cy="579.6" r="1.2"/><circle cx="1095.7" cy="571.2" r="1.2"/><circle cx="1105.6" cy="561.3" r="1.2"/><circle cx="1120.4" cy="558.8" r="1.2"/><circle cx="1130.3" cy="568.7" r="1.2"/><circle cx="996.8" cy="613.2" r="1.2"/><circle cx="1011.6" cy="603.3" r="1.2"/><circle cx="1021.5" cy="594.4" r="1.2"/><circle cx="1041.3" cy="598.4" r="1.2"/><circle cx="1056.1" cy="603.3" r="1.2"/><circle cx="1075.9" cy="598.4" r="1.2"/><circle cx="1095.7" cy="591.0" r="1.2"/><circle cx="1110.5" cy="573.6" r="1.2"/><circle cx="1194.6" cy="558.8" r="1.2"/><circle cx="1214.4" cy="544.0" r="1.2"/><circle cx="955.8" cy="632.1" r="1.2"/><circle cx="960.4" cy="627.5" r="1.2"/><circle cx="965.1" cy="621.3" r="1.2"/><circle cx="971.3" cy="613.5" r="1.2"/><circle cx="979.0" cy="608.8" r="1.2"/><circle cx="989.9" cy="598.0" r="1.2"/></g>
<polygon points="946.0,645.5 955.0,643.5 965.0,641.0 975.0,639.5 976.0,642.5 965.0,645.0 955.0,647.5 947.0,649.5" fill="#000" stroke="#000" stroke-width="1.00" stroke-linejoin="round"/>
<line x1="946.1" y1="646.8" x2="951.7" y2="632.5" stroke="#000" stroke-width="1.30"/>
<g fill="#000"><circle cx="956.5" cy="632.9" r="1.2"/><circle cx="961.7" cy="626.0" r="1.2"/><circle cx="964.3" cy="620.8" r="1.2"/><circle cx="967.7" cy="617.3" r="1.2"/><circle cx="972.5" cy="611.3" r="1.2"/><circle cx="979.9" cy="609.1" r="1.2"/><circle cx="966.0" cy="619.0" r="1.2"/><circle cx="970.0" cy="615.0" r="1.2"/><circle cx="992.0" cy="633.4" r="1.2"/><circle cx="996.3" cy="630.8" r="1.2"/><circle cx="1000.7" cy="629.0" r="1.2"/><circle cx="1005.0" cy="627.3" r="1.2"/><circle cx="1010.2" cy="624.3" r="1.2"/><circle cx="1015.8" cy="621.7" r="1.2"/><circle cx="1022.3" cy="618.2" r="1.2"/><circle cx="1029.3" cy="615.2" r="1.2"/><circle cx="1037.1" cy="612.1" r="1.2"/><circle cx="1045.7" cy="608.7" r="1.2"/><circle cx="1055.7" cy="603.9" r="1.2"/><circle cx="979.0" cy="640.0" r="1.2"/><circle cx="984.0" cy="638.5" r="1.2"/><circle cx="989.0" cy="637.5" r="1.2"/><circle cx="993.0" cy="636.5" r="1.2"/><circle cx="990.0" cy="639.0" r="1.2"/><circle cx="995.0" cy="638.0" r="1.2"/><circle cx="1000.0" cy="638.0" r="1.2"/><circle cx="1004.0" cy="637.0" r="1.2"/><circle cx="1009.0" cy="637.0" r="1.2"/><circle cx="1012.8" cy="635.5" r="1.2"/></g>
<line x1="945.8" y1="647.8" x2="1247.5" y2="508.4" stroke="#ee3333" stroke-width="1.30"/>
<text x="1099.6" y="614.2" font-size="20.5" text-anchor="start" font-weight="normal" fill="#000" textLength="170.0" lengthAdjust="spacingAndGlyphs">f(x) = 4.1x + 381.9</text>
<text x="1099.6" y="637.0" font-size="20.5" text-anchor="start" font-weight="normal" fill="#000" textLength="86.0" lengthAdjust="spacingAndGlyphs">R&#178; = 0.88</text>
<rect x="3.0" y="881.7" width="1376.0" height="601.5" rx="12.0" fill="none" stroke="#000" stroke-width="2.0"/>
<text x="148.0" y="963.4" font-size="77.0" text-anchor="middle" font-weight="normal" fill="#000" textLength="50.0" lengthAdjust="spacingAndGlyphs">B</text>
<text x="355.4" y="936.3" font-size="25.5" text-anchor="middle" font-weight="normal" fill="#000" textLength="120.9" lengthAdjust="spacingAndGlyphs">0.5 x CO<tspan font-size="85%" dy="0.25em">2</tspan><tspan dy="-0.21em">&#8203;</tspan></text>
<polygon points="352.0,945.8 82.5,1409.6 621.0,1410.6" fill="none" stroke="#000" stroke-width="3.20" stroke-linejoin="round"/>
<polyline points="274.0,1082.3 430.0,1129.1 544.0,1399.0" fill="none" stroke="#000" stroke-width="2.20" stroke-linejoin="round"/>
<line x1="345.5" y1="1104.0" x2="328.6" y2="1396.6" stroke="#000" stroke-width="2.20"/>
<line x1="191.7" y1="1225.5" x2="532.2" y2="1372.8" stroke="#000" stroke-width="2.20"/>
<line x1="93.3" y1="1394.4" x2="613.2" y2="1401.0" stroke="#000" stroke-width="2.20"/>
<text x="355.0" y="1051.1" font-size="25.0" text-anchor="middle" font-weight="normal" fill="#000" textLength="69.6" lengthAdjust="spacingAndGlyphs">S loss</text>
<text x="354.9" y="1080.1" font-size="25.0" text-anchor="middle" font-weight="normal" fill="#000" textLength="117.4" lengthAdjust="spacingAndGlyphs">scrubbing</text>
<text x="278.1" y="1166.8" font-size="22.5" text-anchor="middle" font-weight="normal" fill="#000" textLength="58.7" lengthAdjust="spacingAndGlyphs">Deep</text>
<text x="281.4" y="1188.5" font-size="22.5" text-anchor="middle" font-weight="normal" fill="#000" textLength="112.8" lengthAdjust="spacingAndGlyphs">magmatic</text>
<text x="228.7" y="1314.3" font-size="22.5" text-anchor="middle" font-weight="normal" fill="#000" textLength="81.3" lengthAdjust="spacingAndGlyphs">Shallow</text>
<text x="232.0" y="1333.8" font-size="22.5" text-anchor="middle" font-weight="normal" fill="#000" textLength="105.1" lengthAdjust="spacingAndGlyphs">magmatic</text>
<g transform="translate(431.2 1213.0) rotate(36.00)"><text x="0" y="8.1" font-size="22.5" text-anchor="middle" fill="#000" font-weight="normal" textLength="56.0" lengthAdjust="spacingAndGlyphs">Deep</text></g>
<g transform="translate(416.0 1239.5) rotate(36.00)"><text x="0" y="8.1" font-size="22.5" text-anchor="middle" fill="#000" font-weight="normal" textLength="142.0" lengthAdjust="spacingAndGlyphs">hydrothermal-</text></g>
<g transform="translate(405.2 1259.0) rotate(36.00)"><text x="0" y="8.1" font-size="22.5" text-anchor="middle" fill="#000" font-weight="normal" textLength="100.0" lengthAdjust="spacingAndGlyphs">magmatic</text></g>
<g transform="translate(417.4 1330.5) rotate(17.50)"><text x="0" y="8.1" font-size="22.5" text-anchor="middle" fill="#000" font-weight="normal" textLength="82.0" lengthAdjust="spacingAndGlyphs">Shallow</text></g>
<g transform="translate(411.7 1354.5) rotate(17.50)"><text x="0" y="8.1" font-size="22.5" text-anchor="middle" fill="#000" font-weight="normal" textLength="150.0" lengthAdjust="spacingAndGlyphs">hydrothermal-</text></g>
<g transform="translate(405.2 1374.5) rotate(17.50)"><text x="0" y="8.1" font-size="22.5" text-anchor="middle" fill="#000" font-weight="normal" textLength="104.0" lengthAdjust="spacingAndGlyphs">magmatic</text></g>
<g transform="translate(516.5 1266.0) rotate(59.80)"><text x="0" y="8.1" font-size="22.5" text-anchor="middle" fill="#000" font-weight="normal" textLength="292.0" lengthAdjust="spacingAndGlyphs">Hydrothermally -dominated</text></g>
<text x="112.8" y="1439.3" font-size="25.5" text-anchor="middle" font-weight="normal" fill="#000" textLength="96.6" lengthAdjust="spacingAndGlyphs">3 x SO<tspan font-size="85%" dy="0.25em">2</tspan><tspan dy="-0.21em">&#8203;</tspan></text>
<text x="340.9" y="1439.3" font-size="25.5" text-anchor="middle" font-weight="normal" fill="#000" textLength="246.9" lengthAdjust="spacingAndGlyphs">Sulfur remobilization</text>
<text x="579.2" y="1437.0" font-size="25.5" text-anchor="middle" font-weight="normal" fill="#000" textLength="95.3" lengthAdjust="spacingAndGlyphs">5 x H<tspan font-size="85%" dy="0.25em">2</tspan><tspan dy="-0.21em">&#8203;</tspan>S</text>
<path d="M213.8,1435.6 C195,1430 182,1418 190,1410 C197,1404 210,1402 221,1401" fill="none" stroke="#000" stroke-width="2.00"/>
<polygon points="223.5,1400.8 211.0,1397.5 214.0,1405.5" fill="#000" stroke="none" stroke-width="0.00" stroke-linejoin="round"/>
<polygon points="240.6,1205.3 243.4,1212.9 251.5,1213.2 245.2,1218.3 247.4,1226.1 240.6,1221.6 233.8,1226.1 236.0,1218.3 229.7,1213.2 237.8,1212.9" fill="#ee2222" stroke="none" stroke-width="0.00" stroke-linejoin="round"/>
<rect x="148.0" y="1290.1" width="12.0" height="12.0" fill="#999999"/>
<rect x="146.2" y="1298.8" width="12.0" height="12.0" fill="#999999"/>
<polygon points="119.3,1349.2 139.3,1349.2 129.3,1333.2" fill="#666666" stroke="none" stroke-width="0.00" stroke-linejoin="round"/>
<polygon points="196.0,1351.6 205.0,1358.2 201.6,1368.8 190.4,1368.8 187.0,1358.2" fill="#c0c0c0" stroke="#c0c0c0" stroke-width="2.4" stroke-linejoin="round"/>
<text x="658.5" y="995.3" font-size="21.5" text-anchor="middle" font-weight="normal" fill="#000" textLength="77.7" lengthAdjust="spacingAndGlyphs">Legend</text>
<line x1="620.0" y1="998.5" x2="697.0" y2="998.5" stroke="#000" stroke-width="1.30"/>
<polygon points="619.6,1015.2 621.5,1020.2 626.7,1020.4 622.6,1023.7 624.0,1028.8 619.6,1025.9 615.2,1028.8 616.6,1023.7 612.5,1020.4 617.7,1020.2" fill="#ee2222" stroke="none" stroke-width="0.00" stroke-linejoin="round"/>
<text x="634.1" y="1026.2" font-size="21.5" text-anchor="start" font-weight="normal" fill="#000" textLength="72.2" lengthAdjust="spacingAndGlyphs">Ambae</text>
<polygon points="620.2,1037.2 626.2,1041.6 623.9,1048.6 616.5,1048.6 614.2,1041.6" fill="#c0c0c0" stroke="#c0c0c0" stroke-width="1.6" stroke-linejoin="round"/>
<text x="634.7" y="1049.6" font-size="21.5" text-anchor="start" font-weight="normal" fill="#000" textLength="52.5" lengthAdjust="spacingAndGlyphs">Gaua</text>
<rect x="616.2" y="1063.7" width="9.5" height="9.5" fill="#999999"/>
<text x="634.0" y="1076.7" font-size="21.5" text-anchor="start" font-weight="normal" fill="#000" textLength="55.0" lengthAdjust="spacingAndGlyphs">Yasur</text>
<polygon points="613.8,1097.8 628.2,1097.8 621.0,1086.2" fill="#555555" stroke="none" stroke-width="0.00" stroke-linejoin="round"/>
<text x="636.1" y="1098.7" font-size="21.5" text-anchor="start" font-weight="normal" fill="#000" textLength="87.5" lengthAdjust="spacingAndGlyphs">Ambrym</text>
<text x="617.3" y="1131.0" font-size="21.5" text-anchor="start" font-weight="normal" fill="#000" textLength="114.0" lengthAdjust="spacingAndGlyphs">MP: Merapi</text>
<text x="617.3" y="1152.7" font-size="21.5" text-anchor="start" font-weight="normal" fill="#000" textLength="112.7" lengthAdjust="spacingAndGlyphs">BM: Bromo</text>
<path d="M953.4,986.9 C957.2,987.2 958.0,988.0 960.6,989.8 C963.2,991.6 965.9,994.1 969.3,997.8 C972.7,1001.5 975.6,1005.0 980.9,1012.2 C986.2,1019.4 994.1,1031.2 1001.1,1041.1 C1008.1,1051.0 1016.0,1062.0 1022.7,1071.4 C1029.4,1080.8 1035.5,1088.2 1041.5,1097.4 C1047.5,1106.6 1052.2,1115.9 1058.8,1126.3 C1065.4,1136.7 1073.1,1147.7 1080.9,1160.0 C1088.7,1172.3 1096.2,1185.0 1105.4,1200.0 C1114.6,1215.0 1125.9,1233.3 1136.1,1250.0 C1146.3,1266.7 1158.1,1285.8 1166.8,1300.0 C1175.5,1314.2 1182.4,1325.3 1188.2,1335.0 C1194.0,1344.7 1198.8,1351.6 1201.5,1358.0 C1204.2,1364.4 1204.4,1368.2 1204.2,1373.5 C1204.0,1378.8 1203.2,1385.0 1200.2,1389.7 C1197.2,1394.4 1192.4,1398.6 1186.0,1401.8 C1179.6,1405.0 1172.5,1407.6 1161.7,1408.9 C1150.9,1410.2 1128.7,1410.1 1121.3,1409.9 C1113.9,1409.7 1122.3,1410.6 1117.3,1407.9 C1112.2,1405.2 1100.4,1397.8 1091.0,1393.7 C1081.6,1389.7 1070.8,1387.3 1060.7,1383.6 C1050.6,1379.9 1038.4,1375.9 1030.3,1371.5 C1022.2,1367.1 1015.8,1362.0 1012.1,1357.3 C1008.4,1352.6 1007.4,1348.6 1008.1,1343.2 C1008.8,1337.8 1010.8,1330.7 1016.2,1325.0 C1021.6,1319.3 1031.3,1315.4 1040.4,1308.8 C1049.5,1302.2 1063.9,1291.6 1070.8,1285.5 C1077.7,1279.4 1078.6,1276.6 1082.0,1272.0 C1085.4,1267.4 1089.2,1263.0 1091.0,1258.0 C1092.8,1253.0 1093.5,1248.0 1093.0,1242.0 C1092.5,1236.0 1090.7,1229.4 1088.0,1222.0 C1085.3,1214.6 1083.0,1207.4 1076.8,1197.6 C1070.5,1187.8 1058.8,1173.3 1050.5,1163.2 C1042.2,1153.1 1033.8,1144.6 1027.0,1137.0 C1020.2,1129.4 1015.2,1124.0 1009.7,1117.6 C1004.2,1111.2 999.7,1105.5 993.9,1098.8 C988.1,1092.1 981.1,1084.4 975.1,1077.2 C969.1,1070.0 963.1,1062.0 957.8,1055.5 C952.5,1049.0 947.1,1043.5 943.3,1038.2 C939.4,1032.9 936.8,1028.1 934.7,1023.8 C932.7,1019.5 931.7,1016.1 931.0,1012.2 C930.3,1008.3 930.2,1003.7 930.3,1000.6 C930.4,997.5 930.3,995.6 931.5,993.5 C932.7,991.4 933.9,988.8 937.5,987.7 C941.1,986.6 949.5,986.5 953.4,986.9 Z" fill="#6f6f6f" stroke="#333" stroke-width="0.80"/>
<path d="M963.3,1110.6 C967.6,1108.8 973.4,1109.9 980.6,1112.8 C987.8,1115.7 1000.1,1122.6 1006.6,1128.0 C1013.1,1133.4 1016.0,1138.1 1019.6,1145.3 C1023.2,1152.5 1025.5,1162.6 1028.2,1171.3 C1030.9,1180.0 1034.9,1189.4 1036.0,1197.3 C1037.1,1205.2 1037.4,1212.8 1034.7,1218.9 C1032.0,1225.0 1027.2,1230.5 1019.6,1234.1 C1012.0,1237.7 1002.3,1239.5 989.3,1240.6 C976.3,1241.7 955.3,1241.7 941.6,1240.6 C927.9,1239.5 915.6,1237.0 906.9,1234.1 C898.2,1231.2 892.9,1226.9 889.6,1223.3 C886.4,1219.7 886.3,1216.0 887.4,1212.4 C888.5,1208.8 890.7,1205.2 896.1,1201.6 C901.5,1198.0 914.1,1194.4 919.9,1190.8 C925.7,1187.2 927.2,1186.1 930.8,1179.9 C934.4,1173.8 937.6,1163.3 941.6,1153.9 C945.6,1144.5 951.0,1130.8 954.6,1123.6 C958.2,1116.4 959.0,1112.4 963.3,1110.6 Z" fill="#b3b3b3" stroke="#000" stroke-width="1.50"/>
<path d="M929.6,1002 C918,1040 908,1072 900,1098.8 C885,1145 860,1200 841.8,1250 C830,1280 818,1305 805.7,1329.4 C790,1352 745,1382 700,1403 L688,1409 L927,999 Z" fill="#daf0f3" stroke="none" stroke-width="1.00"/>
<path d="M929.6,1002 C918,1040 908,1072 900,1098.8 C885,1145 860,1200 841.8,1250 C830,1280 818,1305 805.7,1329.4" fill="none" stroke="#000" stroke-width="2.00"/>
<path d="M805.7,1329.4 C790,1352 745,1382 700,1403 L686,1410" fill="none" stroke="#000" stroke-width="1.80"/>
<path d="M728.5,1335.9 C735.6,1329.5 750.0,1336.9 756.6,1336.6 C763.2,1336.3 779.6,1333.9 785.5,1333.0 C791.4,1332.1 802.1,1330.3 807.2,1328.7 C812.3,1327.1 823.7,1321.9 828.8,1319.3 C833.9,1316.7 844.9,1308.9 850.5,1306.3 C856.1,1303.7 870.5,1299.0 876.6,1296.9 C882.7,1294.8 896.5,1290.5 902.6,1288.2 C908.7,1285.9 922.5,1279.5 928.6,1277.4 C934.7,1275.3 947.5,1271.4 954.6,1270.0 C961.7,1268.6 981.7,1266.1 989.3,1265.7 C996.9,1265.3 1013.1,1266.0 1019.6,1266.6 C1026.1,1267.2 1039.0,1269.1 1045.0,1271.0 C1051.0,1272.9 1064.3,1279.4 1070.8,1282.5 C1077.3,1285.6 1094.7,1294.2 1101.1,1297.7 C1107.5,1301.2 1120.7,1309.1 1125.4,1312.8 C1130.1,1316.5 1138.9,1325.2 1141.5,1329.0 C1144.1,1332.8 1146.9,1341.0 1147.6,1345.2 C1148.3,1349.4 1148.3,1361.2 1147.6,1365.4 C1146.9,1369.6 1143.6,1377.9 1141.5,1381.6 C1139.4,1385.3 1132.7,1394.0 1129.4,1396.8 C1126.1,1399.6 1118.4,1404.3 1113.2,1405.9 C1108.0,1407.5 1092.4,1410.8 1085.0,1410.5 C1077.6,1410.2 1059.0,1404.6 1049.9,1403.0 C1040.8,1401.4 1016.7,1397.0 1006.6,1396.5 C996.5,1396.0 973.4,1397.7 963.3,1398.7 C953.2,1399.7 929.1,1403.8 920.0,1405.2 C910.9,1406.6 910.4,1409.9 885.3,1410.5 C860.2,1411.1 726.7,1411.6 705.0,1410.5 C683.3,1409.4 700.0,1403.2 699.0,1401.0 C698.0,1398.8 692.6,1399.1 696.0,1391.5 C699.4,1383.9 721.4,1342.3 728.5,1335.9 Z" fill="#e3e3e3" stroke="none" stroke-width="1.00" fill-opacity="0.55"/>
<path d="M728.5,1335.9 C735.6,1329.5 750.0,1336.9 756.6,1336.6 C763.2,1336.3 779.6,1333.9 785.5,1333.0 C791.4,1332.1 802.1,1330.3 807.2,1328.7 C812.3,1327.1 823.7,1321.9 828.8,1319.3 C833.9,1316.7 844.9,1308.9 850.5,1306.3 C856.1,1303.7 870.5,1299.0 876.6,1296.9 C882.7,1294.8 896.5,1290.5 902.6,1288.2 C908.7,1285.9 922.5,1279.5 928.6,1277.4 C934.7,1275.3 947.5,1271.4 954.6,1270.0 C961.7,1268.6 981.7,1266.1 989.3,1265.7 C996.9,1265.3 1013.1,1266.0 1019.6,1266.6 C1026.1,1267.2 1039.0,1269.1 1045.0,1271.0 C1051.0,1272.9 1064.3,1279.4 1070.8,1282.5 C1077.3,1285.6 1094.7,1294.2 1101.1,1297.7 C1107.5,1301.2 1120.7,1309.1 1125.4,1312.8 C1130.1,1316.5 1138.9,1325.2 1141.5,1329.0 C1144.1,1332.8 1146.9,1341.0 1147.6,1345.2 C1148.3,1349.4 1148.3,1361.2 1147.6,1365.4 C1146.9,1369.6 1143.6,1377.9 1141.5,1381.6 C1139.4,1385.3 1132.7,1394.0 1129.4,1396.8 C1126.1,1399.6 1118.4,1404.3 1113.2,1405.9 C1108.0,1407.5 1092.4,1410.8 1085.0,1410.5 C1077.6,1410.2 1059.0,1404.6 1049.9,1403.0 C1040.8,1401.4 1016.7,1397.0 1006.6,1396.5 C996.5,1396.0 973.4,1397.7 963.3,1398.7 C953.2,1399.7 929.1,1403.8 920.0,1405.2 C910.9,1406.6 910.4,1409.9 885.3,1410.5 C860.2,1411.1 726.7,1411.6 705.0,1410.5 C683.3,1409.4 700.0,1403.2 699.0,1401.0 C698.0,1398.8 692.6,1399.1 696.0,1391.5 C699.4,1383.9 721.4,1342.3 728.5,1335.9 Z" fill="none" stroke="#000" stroke-width="1.60"/>
<polygon points="955.9,951.2 683.8,1411.7 1238.3,1411.7" fill="none" stroke="#000" stroke-width="3.00" stroke-linejoin="round"/>
<line x1="684.4" y1="1411.7" x2="1051.6" y2="1105.6" stroke="#444" stroke-width="0.80"/>
<line x1="684.4" y1="1411.7" x2="1099.0" y2="1179.4" stroke="#444" stroke-width="0.80"/>
<line x1="684.4" y1="1411.7" x2="1159.7" y2="1278.5" stroke="#444" stroke-width="0.80"/>
<line x1="1051.6" y1="1105.6" x2="1057.8" y2="1101.4" stroke="#000" stroke-width="2.00"/>
<line x1="1099.0" y1="1179.4" x2="1105.0" y2="1175.6" stroke="#000" stroke-width="2.00"/>
<line x1="1159.7" y1="1278.5" x2="1165.8" y2="1274.7" stroke="#000" stroke-width="2.00"/>
<line x1="1213.3" y1="1353.3" x2="1220.4" y2="1349.0" stroke="#000" stroke-width="2.00"/>
<text x="1076.2" y="1094.9" font-size="21.0" text-anchor="middle" font-weight="normal" fill="#000" textLength="24.8" lengthAdjust="spacingAndGlyphs">10</text>
<text x="1114.5" y="1171.3" font-size="21.0" text-anchor="middle" font-weight="normal" fill="#000" textLength="11.6" lengthAdjust="spacingAndGlyphs">5</text>
<text x="1180.5" y="1280.9" font-size="21.0" text-anchor="middle" font-weight="normal" fill="#000" textLength="11.1" lengthAdjust="spacingAndGlyphs">2</text>
<text x="1243.8" y="1373.5" font-size="21.0" text-anchor="middle" font-weight="normal" fill="#000" textLength="31.8" lengthAdjust="spacingAndGlyphs">0.5</text>
<g transform="translate(1185.5 1225.9) rotate(54.90)"><text x="0" y="9.7" font-size="27.0" text-anchor="middle" fill="#000" font-weight="normal" textLength="153.0" lengthAdjust="spacingAndGlyphs">CO2/STotal</text></g>
<g transform="translate(1141.0 1283.5) rotate(57.40)"><text x="0" y="7.6" font-size="21.0" text-anchor="middle" fill="#ffffff" font-weight="normal" textLength="170.6" lengthAdjust="spacingAndGlyphs">Within plate/rift</text></g>
<g transform="translate(1120.3 1296.6) rotate(56.60)"><text x="0" y="7.6" font-size="21.0" text-anchor="middle" fill="#ffffff" font-weight="normal" textLength="106.5" lengthAdjust="spacingAndGlyphs">volcanism</text></g>
<g transform="translate(826.8 1207.0) rotate(-57.70)"><text x="0" y="7.9" font-size="22.0" text-anchor="middle" fill="#000" font-weight="normal" textLength="146.0" lengthAdjust="spacingAndGlyphs">Hydrothermal</text></g>
<text x="981.2" y="1185.1" font-size="22.0" text-anchor="middle" font-weight="normal" fill="#000" textLength="64.8" lengthAdjust="spacingAndGlyphs">Italian</text>
<text x="985.0" y="1205.9" font-size="22.0" text-anchor="middle" font-weight="normal" fill="#000" textLength="105.0" lengthAdjust="spacingAndGlyphs">volcanoes</text>
<text x="794.3" y="1375.7" font-size="22.0" text-anchor="middle" font-weight="normal" fill="#000" textLength="34.1" lengthAdjust="spacingAndGlyphs">Arc</text>
<text x="794.3" y="1396.5" font-size="22.0" text-anchor="middle" font-weight="normal" fill="#000" textLength="105.1" lengthAdjust="spacingAndGlyphs">volcanism</text>
<text x="923.2" y="1273.1" font-size="21.0" text-anchor="middle" font-weight="normal" fill="#000" textLength="30.9" lengthAdjust="spacingAndGlyphs">MP</text>
<text x="939.9" y="1323.8" font-size="21.0" text-anchor="middle" font-weight="normal" fill="#000" textLength="32.3" lengthAdjust="spacingAndGlyphs">BM</text>
<text x="960.0" y="939.5" font-size="25.5" text-anchor="middle" font-weight="normal" fill="#000" textLength="55.3" lengthAdjust="spacingAndGlyphs">CO<tspan font-size="85%" dy="0.25em">2</tspan><tspan dy="-0.21em">&#8203;</tspan></text>
<text x="719.1" y="1438.6" font-size="25.5" text-anchor="middle" font-weight="normal" fill="#000" textLength="93.6" lengthAdjust="spacingAndGlyphs">H<tspan font-size="85%" dy="0.25em">2</tspan><tspan dy="-0.21em">&#8203;</tspan>O/10</text>
<text x="1214.5" y="1437.7" font-size="25.5" text-anchor="middle" font-weight="normal" fill="#000" textLength="61.9" lengthAdjust="spacingAndGlyphs">5*S<tspan font-size="85%" dy="0.25em">T</tspan><tspan dy="-0.21em">&#8203;</tspan></text>
<circle cx="913.4" cy="1288.2" r="10.5" fill="#000"/>
<polygon points="913.4,1276.0 916.6,1284.6 925.8,1285.0 918.6,1290.7 921.0,1299.5 913.4,1294.5 905.8,1299.5 908.2,1290.7 901.0,1285.0 910.2,1284.6" fill="#ee2222" stroke="none" stroke-width="0.00" stroke-linejoin="round"/>
<circle cx="911.3" cy="1316.4" r="10" fill="#000"/>
<polygon points="878.3,1343.9 898.3,1343.9 888.3,1327.9" fill="#555555" stroke="none" stroke-width="0.00" stroke-linejoin="round"/>
<polygon points="919.5,1380.7 939.5,1380.7 929.5,1364.7" fill="#555555" stroke="none" stroke-width="0.00" stroke-linejoin="round"/>
<rect x="914.6" y="1339.2" width="15.0" height="15.0" fill="#999999"/>
<rect x="850.9" y="1360.0" width="15.0" height="15.0" fill="#999999"/>
<rect x="946.2" y="1352.2" width="15.0" height="15.0" fill="#999999"/>
<polygon points="982.7,1364.5 991.7,1371.1 988.3,1381.7 977.1,1381.7 973.7,1371.1" fill="#c0c0c0" stroke="#c0c0c0" stroke-width="2.4" stroke-linejoin="round"/>
<rect x="7.2" y="1500.2" width="1374.2" height="995.6" rx="12" fill="none" stroke="#000" stroke-width="3.2"/>
<rect x="161.8" y="1537.3" width="1208.2" height="857.9" rx="11" fill="none" stroke="#000" stroke-width="1.5"/>
<text x="49.3" y="1618.8" font-size="73.5" text-anchor="middle" font-weight="normal" fill="#000" textLength="55.5" lengthAdjust="spacingAndGlyphs">C</text>
<text x="113.7" y="1557.1" font-size="25.7" text-anchor="middle" font-weight="normal" fill="#000" textLength="56.9" lengthAdjust="spacingAndGlyphs">7000</text>
<line x1="161.8" y1="1665.8" x2="192.5" y2="1665.8" stroke="#000" stroke-width="1.60"/>
<text x="117.5" y="1675.9" font-size="25.7" text-anchor="middle" font-weight="normal" fill="#000" textLength="57.4" lengthAdjust="spacingAndGlyphs">6000</text>
<line x1="161.8" y1="1782.0" x2="192.5" y2="1782.0" stroke="#000" stroke-width="1.60"/>
<text x="119.5" y="1794.2" font-size="25.7" text-anchor="middle" font-weight="normal" fill="#000" textLength="58.4" lengthAdjust="spacingAndGlyphs">5000</text>
<line x1="161.8" y1="1908.4" x2="192.5" y2="1908.4" stroke="#000" stroke-width="1.60"/>
<text x="117.0" y="1921.0" font-size="25.7" text-anchor="middle" font-weight="normal" fill="#000" textLength="58.5" lengthAdjust="spacingAndGlyphs">4000</text>
<line x1="161.8" y1="2027.7" x2="192.5" y2="2027.7" stroke="#000" stroke-width="1.60"/>
<text x="115.5" y="2038.5" font-size="25.7" text-anchor="middle" font-weight="normal" fill="#000" textLength="57.6" lengthAdjust="spacingAndGlyphs">3000</text>
<line x1="161.8" y1="2146.8" x2="192.5" y2="2146.8" stroke="#000" stroke-width="1.60"/>
<text x="115.5" y="2157.2" font-size="25.7" text-anchor="middle" font-weight="normal" fill="#000" textLength="58.4" lengthAdjust="spacingAndGlyphs">2000</text>
<line x1="161.8" y1="2267.4" x2="192.5" y2="2267.4" stroke="#000" stroke-width="1.60"/>
<text x="112.0" y="2281.0" font-size="25.7" text-anchor="middle" font-weight="normal" fill="#000" textLength="58.4" lengthAdjust="spacingAndGlyphs">1000</text>
<text x="162.4" y="2428.3" font-size="22.5" text-anchor="middle" font-weight="normal" fill="#000">0</text>
<text x="331.3" y="2428.3" font-size="22.5" text-anchor="middle" font-weight="normal" fill="#000">1</text>
<line x1="331.8" y1="2366.0" x2="331.8" y2="2395.0" stroke="#000" stroke-width="1.60"/>
<text x="507.0" y="2428.3" font-size="22.5" text-anchor="middle" font-weight="normal" fill="#000">2</text>
<line x1="508.0" y1="2366.0" x2="508.0" y2="2395.0" stroke="#000" stroke-width="1.60"/>
<text x="678.5" y="2428.3" font-size="22.5" text-anchor="middle" font-weight="normal" fill="#000">3</text>
<line x1="679.5" y1="2366.0" x2="679.5" y2="2395.0" stroke="#000" stroke-width="1.60"/>
<text x="850.8" y="2428.3" font-size="22.5" text-anchor="middle" font-weight="normal" fill="#000">4</text>
<line x1="854.0" y1="2366.0" x2="854.0" y2="2395.0" stroke="#000" stroke-width="1.60"/>
<text x="1019.7" y="2428.3" font-size="22.5" text-anchor="middle" font-weight="normal" fill="#000">5</text>
<line x1="1022.2" y1="2366.0" x2="1022.2" y2="2395.0" stroke="#000" stroke-width="1.60"/>
<text x="1192.8" y="2428.3" font-size="22.5" text-anchor="middle" font-weight="normal" fill="#000">6</text>
<line x1="1195.3" y1="2366.0" x2="1195.3" y2="2395.0" stroke="#000" stroke-width="1.60"/>
<text x="1357.4" y="2428.3" font-size="22.5" text-anchor="middle" font-weight="normal" fill="#000">7</text>
<text x="724.2" y="2466.3" font-size="28.6" text-anchor="middle" font-weight="normal" fill="#000" textLength="143.3" lengthAdjust="spacingAndGlyphs">H<tspan font-size="85%" dy="0.22em">2</tspan><tspan dy="-0.19em">&#8203;</tspan>O (wt%)</text>
<g transform="translate(47 2008.6) rotate(-90)"><text x="0" y="0" font-size="30" text-anchor="middle" textLength="158" lengthAdjust="spacingAndGlyphs">CO<tspan font-size="85%" dy="0.22em">2</tspan><tspan dy="-0.19em">&#8203;</tspan> (ppm)</text></g>
<path d="M710.4,2155.3 C718.8,2150.5 724.3,2151.9 736.7,2149.7 C749.1,2147.4 773.0,2143.3 793.0,2140.3 C813.0,2137.3 847.8,2132.2 870.0,2130.0 C892.2,2127.8 918.4,2127.2 940.9,2125.5 C963.4,2123.8 997.4,2120.9 1020.0,2119.0 C1042.6,2117.1 1075.4,2113.5 1091.4,2113.0 C1107.4,2112.5 1119.5,2114.2 1126.6,2115.5 C1133.7,2116.8 1136.8,2119.5 1139.0,2122.0 C1141.2,2124.5 1142.6,2128.4 1141.6,2132.0 C1140.5,2135.6 1135.8,2141.7 1132.0,2146.0 C1128.2,2150.3 1123.5,2154.4 1116.5,2160.6 C1109.5,2166.8 1094.8,2178.7 1085.0,2187.0 C1075.2,2195.3 1061.0,2207.6 1051.3,2215.8 C1041.5,2224.1 1029.0,2234.5 1020.0,2242.0 C1011.0,2249.5 1000.1,2258.8 991.1,2266.0 C982.1,2273.2 969.0,2282.5 960.0,2290.0 C951.0,2297.5 941.3,2307.8 930.9,2316.2 C920.5,2324.6 904.3,2339.5 890.7,2346.3 C877.1,2353.1 859.3,2356.9 840.5,2361.4 C821.7,2365.9 782.0,2373.5 765.3,2376.4 C748.6,2379.3 738.6,2379.7 729.2,2380.6 C719.8,2381.5 709.1,2383.0 702.9,2382.4 C696.7,2381.8 691.3,2379.9 687.9,2376.8 C684.5,2373.7 682.7,2369.1 680.4,2361.8 C678.1,2354.5 675.1,2338.1 672.8,2328.0 C670.5,2317.9 667.0,2306.6 665.3,2294.2 C663.6,2281.8 661.6,2257.8 661.6,2245.4 C661.6,2233.0 662.5,2221.2 665.3,2211.6 C668.1,2202.0 673.6,2190.0 680.4,2181.6 C687.2,2173.2 702.0,2160.1 710.4,2155.3 Z" fill="#b9c8cb" stroke="none" stroke-width="1.00"/>
<path d="M710.4,2155.3 C718.8,2150.5 724.3,2151.9 736.7,2149.7 C749.1,2147.4 773.0,2143.3 793.0,2140.3 C813.0,2137.3 847.8,2132.2 870.0,2130.0 C892.2,2127.8 918.4,2127.2 940.9,2125.5 C963.4,2123.8 997.4,2120.9 1020.0,2119.0 C1042.6,2117.1 1075.4,2113.5 1091.4,2113.0 C1107.4,2112.5 1119.5,2114.2 1126.6,2115.5 C1133.7,2116.8 1136.8,2119.5 1139.0,2122.0 C1141.2,2124.5 1142.6,2128.4 1141.6,2132.0 C1140.5,2135.6 1135.8,2141.7 1132.0,2146.0 C1128.2,2150.3 1123.5,2154.4 1116.5,2160.6 C1109.5,2166.8 1094.8,2178.7 1085.0,2187.0 C1075.2,2195.3 1061.0,2207.6 1051.3,2215.8 C1041.5,2224.1 1029.0,2234.5 1020.0,2242.0 C1011.0,2249.5 1000.1,2258.8 991.1,2266.0 C982.1,2273.2 969.0,2282.5 960.0,2290.0 C951.0,2297.5 941.3,2307.8 930.9,2316.2 C920.5,2324.6 904.3,2339.5 890.7,2346.3 C877.1,2353.1 859.3,2356.9 840.5,2361.4 C821.7,2365.9 782.0,2373.5 765.3,2376.4 C748.6,2379.3 738.6,2379.7 729.2,2380.6 C719.8,2381.5 709.1,2383.0 702.9,2382.4 C696.7,2381.8 691.3,2379.9 687.9,2376.8 C684.5,2373.7 682.7,2369.1 680.4,2361.8 C678.1,2354.5 675.1,2338.1 672.8,2328.0 C670.5,2317.9 667.0,2306.6 665.3,2294.2 C663.6,2281.8 661.6,2257.8 661.6,2245.4 C661.6,2233.0 662.5,2221.2 665.3,2211.6 C668.1,2202.0 673.6,2190.0 680.4,2181.6 C687.2,2173.2 702.0,2160.1 710.4,2155.3 Z" fill="none" stroke="#000" stroke-width="1.80"/>
<path d="M509.5,2084.0 C512.1,2084.6 517.9,2086.5 522.7,2091.5 C527.5,2096.5 539.7,2113.0 545.2,2121.5 C550.7,2130.0 559.9,2145.5 564.0,2155.3 C568.1,2165.1 573.5,2185.0 576.2,2195.0 C578.9,2205.0 582.4,2221.1 584.0,2230.0 C585.6,2238.9 588.0,2254.0 588.4,2262.0 C588.8,2270.0 588.8,2282.7 587.0,2290.0 C585.2,2297.3 579.3,2309.6 575.2,2316.7 C571.1,2323.8 561.5,2336.2 556.5,2343.0 C551.5,2349.8 541.5,2363.5 537.7,2367.4 C533.9,2371.3 530.8,2372.2 528.3,2372.2 C525.8,2372.2 523.7,2371.9 518.9,2367.5 C514.1,2363.1 500.1,2347.1 492.6,2339.3 C485.1,2331.5 468.9,2316.2 462.6,2309.2 C456.3,2302.2 448.4,2292.7 445.7,2286.7 C443.0,2280.7 442.3,2270.7 442.0,2264.2 C441.7,2257.7 442.3,2245.4 443.8,2237.9 C445.3,2230.4 450.2,2216.9 453.2,2207.9 C456.2,2198.9 462.6,2180.3 466.4,2170.3 C470.2,2160.3 477.4,2142.3 481.4,2132.8 C485.4,2123.3 493.5,2105.1 496.4,2099.0 C499.3,2092.9 501.8,2089.0 503.5,2087.0 C505.2,2085.0 506.9,2083.4 509.5,2084.0 Z" fill="#b3b3b3" stroke="#000" stroke-width="1.80"/>
<path d="M646.6,2153.4 C649.0,2153.9 655.5,2155.7 657.8,2159.0 C660.1,2162.3 662.2,2169.8 663.5,2177.8 C664.8,2185.8 667.0,2207.1 667.2,2219.1 C667.4,2231.1 666.6,2259.0 665.3,2268.0 C664.0,2277.0 660.8,2283.0 657.8,2286.7 C654.8,2290.4 647.8,2294.6 642.8,2296.1 C637.8,2297.6 626.8,2298.5 620.3,2298.0 C613.8,2297.5 601.0,2294.3 594.0,2292.3 C587.0,2290.3 573.7,2286.0 567.7,2283.0 C561.7,2280.0 552.5,2272.8 549.0,2269.8 C545.5,2266.8 542.2,2263.7 541.4,2260.4 C540.6,2257.1 542.0,2249.9 543.3,2245.4 C544.6,2240.9 548.0,2231.6 550.8,2226.6 C553.6,2221.6 559.7,2212.2 564.0,2207.9 C568.3,2203.6 577.2,2198.5 582.7,2194.7 C588.2,2190.9 599.3,2184.0 605.3,2179.7 C611.3,2175.4 623.2,2166.1 627.8,2162.8 C632.4,2159.5 637.5,2156.3 640.0,2155.0 C642.5,2153.7 644.2,2152.9 646.6,2153.4 Z" fill="#696969" stroke="#000" stroke-width="1.80"/>
<path d="M204.7,2292.4 C208.0,2291.3 216.1,2288.5 220.9,2288.5 C225.7,2288.5 232.8,2289.4 237.0,2292.4 C241.2,2295.4 246.1,2302.4 248.6,2308.6 C251.1,2314.8 253.0,2326.7 253.7,2334.0 C254.4,2341.3 254.0,2350.5 253.2,2357.1 C252.4,2363.7 250.3,2372.7 248.6,2377.9 C246.9,2383.1 245.1,2389.4 241.7,2391.8 C238.3,2394.2 230.5,2393.8 226.0,2394.0 C221.5,2394.2 215.1,2395.7 211.6,2392.9 C208.1,2390.1 204.8,2381.0 202.4,2375.6 C200.0,2370.2 196.9,2364.0 195.5,2357.1 C194.1,2350.2 193.1,2337.0 193.1,2329.4 C193.1,2321.8 194.6,2311.3 195.5,2306.3 C196.4,2301.3 197.6,2298.1 199.0,2296.0 C200.4,2293.9 201.4,2293.5 204.7,2292.4 Z" fill="#cccccc" stroke="#000" stroke-width="1.80"/>
<line x1="246.5" y1="1619.0" x2="246.5" y2="2006.0" stroke="#000" stroke-width="24.50" stroke-linecap="round"/>
<line x1="283.3" y1="2229.6" x2="230.1" y2="2331.2" stroke="#000" stroke-width="1.40"/>
<line x1="586.3" y1="2073.8" x2="525.6" y2="2157.2" stroke="#000" stroke-width="1.40"/>
<line x1="710.5" y1="2093.0" x2="636.8" y2="2192.6" stroke="#000" stroke-width="1.40"/>
<path d="M165.0,2395.5 C212.5,2394.8 369.2,2394.1 450.0,2391.0 C530.8,2387.9 583.3,2383.5 650.0,2377.0 C716.7,2370.5 790.7,2360.5 850.0,2352.0 C909.3,2343.5 964.3,2333.2 1006.0,2326.2 C1047.7,2319.2 1069.0,2315.4 1100.0,2310.0 C1131.0,2304.6 1161.8,2299.1 1191.8,2293.6 C1221.8,2288.1 1250.7,2282.4 1280.0,2277.0 C1309.3,2271.6 1352.8,2263.7 1367.4,2261.0" fill="none" stroke="#000" stroke-width="4.30" stroke-dasharray="4.3,12.5" fill="none"/>
<path d="M646.4,2389.0 C643.9,2386.9 642.6,2384.5 643.5,2380.2 C644.4,2375.8 647.9,2367.2 652.2,2360.0 C656.5,2352.8 663.7,2341.1 672.4,2332.0 C681.1,2322.9 700.0,2307.2 710.0,2299.3 C720.0,2291.4 730.1,2284.7 738.8,2279.1 C747.5,2273.5 759.0,2265.5 767.7,2261.8 C776.4,2258.1 784.3,2256.4 796.6,2254.5 C808.9,2252.6 827.0,2250.4 850.0,2248.8 C873.0,2247.2 913.8,2245.2 950.0,2244.0 C986.2,2242.8 1053.9,2241.6 1091.4,2241.0 C1128.9,2240.4 1181.5,2239.9 1200.0,2240.0 C1218.5,2240.1 1210.8,2239.7 1214.4,2241.5 C1218.0,2243.3 1221.8,2248.0 1224.0,2252.0 C1226.2,2256.0 1229.1,2263.1 1229.4,2268.0 C1229.7,2272.9 1227.9,2280.8 1226.0,2285.0 C1224.1,2289.2 1222.3,2292.5 1216.9,2296.1 C1211.5,2299.7 1197.5,2305.2 1190.0,2309.0 C1182.5,2312.8 1177.7,2315.6 1166.7,2321.2 C1155.7,2326.8 1131.5,2339.5 1116.5,2346.3 C1101.5,2353.1 1085.2,2361.1 1066.4,2366.4 C1047.6,2371.7 1016.1,2378.3 991.1,2381.4 C966.1,2384.5 922.6,2385.8 900.0,2387.0 C877.4,2388.2 863.0,2388.6 840.5,2389.5 C818.0,2390.4 777.1,2392.3 750.0,2393.0 C722.9,2393.7 675.5,2394.6 660.0,2394.0 C644.5,2393.4 648.9,2391.1 646.4,2389.0 Z" fill="#b0b0b0" stroke="none" stroke-width="1.00" fill-opacity="0.48"/>
<path d="M646.4,2389.0 C643.9,2386.9 642.6,2384.5 643.5,2380.2 C644.4,2375.8 647.9,2367.2 652.2,2360.0 C656.5,2352.8 663.7,2341.1 672.4,2332.0 C681.1,2322.9 700.0,2307.2 710.0,2299.3 C720.0,2291.4 730.1,2284.7 738.8,2279.1 C747.5,2273.5 759.0,2265.5 767.7,2261.8 C776.4,2258.1 784.3,2256.4 796.6,2254.5 C808.9,2252.6 827.0,2250.4 850.0,2248.8 C873.0,2247.2 913.8,2245.2 950.0,2244.0 C986.2,2242.8 1053.9,2241.6 1091.4,2241.0 C1128.9,2240.4 1181.5,2239.9 1200.0,2240.0 C1218.5,2240.1 1210.8,2239.7 1214.4,2241.5 C1218.0,2243.3 1221.8,2248.0 1224.0,2252.0 C1226.2,2256.0 1229.1,2263.1 1229.4,2268.0 C1229.7,2272.9 1227.9,2280.8 1226.0,2285.0 C1224.1,2289.2 1222.3,2292.5 1216.9,2296.1 C1211.5,2299.7 1197.5,2305.2 1190.0,2309.0 C1182.5,2312.8 1177.7,2315.6 1166.7,2321.2 C1155.7,2326.8 1131.5,2339.5 1116.5,2346.3 C1101.5,2353.1 1085.2,2361.1 1066.4,2366.4 C1047.6,2371.7 1016.1,2378.3 991.1,2381.4 C966.1,2384.5 922.6,2385.8 900.0,2387.0 C877.4,2388.2 863.0,2388.6 840.5,2389.5 C818.0,2390.4 777.1,2392.3 750.0,2393.0 C722.9,2393.7 675.5,2394.6 660.0,2394.0 C644.5,2393.4 648.9,2391.1 646.4,2389.0 Z" fill="none" stroke="#7a7a7a" stroke-width="1.80"/>
<path d="M961.0,2225.9 C963.7,2226.1 969.7,2228.5 972.0,2230.5 C974.3,2232.5 976.8,2236.4 978.5,2241.0 C980.2,2245.6 983.3,2258.3 985.0,2265.0 C986.7,2271.7 989.4,2282.3 991.0,2291.0 C992.6,2299.7 995.3,2319.3 997.0,2330.0 C998.7,2340.7 1002.9,2363.9 1003.6,2371.4 C1004.3,2378.9 1003.0,2383.5 1002.0,2386.0 C1001.0,2388.5 998.3,2390.1 996.0,2390.0 C993.7,2389.9 989.0,2386.8 985.0,2385.0 C981.0,2383.2 973.2,2380.2 966.0,2376.4 C958.8,2372.6 940.3,2362.1 930.9,2356.4 C921.5,2350.7 901.3,2338.4 895.7,2333.8 C890.1,2329.2 889.7,2325.2 889.0,2322.0 C888.3,2318.8 888.5,2314.1 890.7,2310.0 C892.9,2305.9 901.2,2297.3 905.8,2291.0 C910.4,2284.7 920.3,2269.7 925.0,2263.0 C929.7,2256.3 937.3,2245.5 940.9,2241.0 C944.5,2236.5 949.3,2231.0 952.0,2229.0 C954.7,2227.0 958.3,2225.7 961.0,2225.9 Z" fill="#b2b2b2" stroke="#000" stroke-width="1.80"/>
<path d="M165.0,2394.0 C172.4,2393.2 195.7,2391.5 209.3,2389.5 C222.9,2387.5 235.6,2385.2 246.6,2382.0 C257.6,2378.8 265.9,2374.7 275.5,2370.4 C285.1,2366.1 294.8,2362.2 304.4,2356.0 C314.0,2349.8 326.4,2338.5 333.3,2332.9 C340.2,2327.3 338.9,2328.9 345.6,2322.5 C352.3,2316.1 364.9,2304.1 373.4,2294.7 C381.9,2285.2 388.8,2275.8 396.5,2265.8 C404.2,2255.8 412.3,2245.3 419.6,2234.7 C426.9,2224.1 432.6,2213.8 440.4,2202.3 C448.2,2190.9 459.6,2177.6 466.4,2166.0 C473.2,2154.4 477.0,2143.8 481.4,2132.8 C485.8,2121.8 489.3,2109.1 492.6,2100.0 C495.9,2090.9 499.6,2081.7 501.0,2078.0" fill="none" stroke="#000" stroke-width="4.30" stroke-dasharray="4.3,8.2" fill="none"/>
<path d="M165.0,2395.0 C177.5,2394.5 218.7,2393.2 240.0,2392.0 C261.3,2390.8 277.3,2389.5 292.9,2387.8 C308.4,2386.1 317.9,2384.9 333.3,2382.0 C348.7,2379.1 370.9,2374.0 385.3,2370.4 C399.7,2366.8 409.3,2363.4 419.9,2360.3 C430.5,2357.2 439.2,2355.1 448.8,2351.7 C458.4,2348.3 470.3,2343.0 477.7,2340.1 C485.1,2337.2 482.5,2338.6 493.3,2334.0 C504.1,2329.4 527.0,2319.5 542.4,2312.3 C557.8,2305.1 572.2,2297.3 585.7,2290.6 C599.2,2283.9 612.2,2278.2 623.3,2271.9 C634.4,2265.7 642.1,2259.8 652.2,2253.1 C662.3,2246.3 674.8,2238.3 683.9,2231.4 C693.0,2224.5 697.2,2219.3 706.6,2211.6 C716.0,2203.9 729.8,2193.4 740.4,2185.3 C751.0,2177.2 761.4,2169.7 770.5,2162.8 C779.6,2155.9 789.3,2148.5 794.9,2144.0 C800.5,2139.5 802.5,2137.3 804.0,2136.0" fill="none" stroke="#000" stroke-width="4.30" stroke-dasharray="4.3,8.2" fill="none"/>
<path d="M165.0,2395.0 C187.5,2394.3 267.1,2392.2 300.0,2391.0 C332.9,2389.8 342.2,2389.3 362.2,2387.8 C382.2,2386.3 400.6,2384.2 419.9,2382.0 C439.1,2379.8 458.4,2377.5 477.7,2374.8 C497.0,2372.2 512.6,2370.7 535.5,2366.1 C558.4,2361.5 589.2,2353.3 615.0,2347.0 C640.8,2340.7 660.8,2335.3 690.0,2328.0 C719.2,2320.7 764.0,2310.2 790.0,2303.0 C816.0,2295.8 828.9,2290.2 845.7,2285.0 C862.5,2279.8 875.0,2277.0 890.7,2272.0 C906.4,2267.0 923.3,2261.4 940.0,2255.0 C956.7,2248.6 974.2,2241.2 991.1,2233.4 C1008.0,2225.6 1030.1,2214.4 1041.3,2208.3 C1052.5,2202.2 1055.2,2198.9 1058.0,2197.0" fill="none" stroke="#000" stroke-width="4.30" stroke-dasharray="4.3,8.2" fill="none"/>
<path d="M165.0,2396.0 C212.5,2395.6 362.5,2395.2 450.0,2393.5 C537.5,2391.8 608.2,2388.4 690.0,2386.0 C771.8,2383.6 857.3,2381.8 941.0,2379.0 C1024.7,2376.2 1120.9,2371.9 1192.0,2369.0 C1263.1,2366.1 1338.2,2362.7 1367.4,2361.4" fill="none" stroke="#000" stroke-width="4.30" stroke-dasharray="4.3,12.5" fill="none"/>
<path d="M162.0,2046.5 C168.3,2046.0 185.3,2043.8 200.0,2043.5 C214.7,2043.2 233.3,2043.7 250.0,2044.5 C266.7,2045.3 283.3,2047.0 300.0,2048.5 C316.7,2050.0 333.3,2051.6 350.0,2053.5 C366.7,2055.4 383.3,2057.6 400.0,2060.0 C416.7,2062.4 433.3,2065.2 450.0,2068.0 C466.7,2070.8 483.3,2074.0 500.0,2077.0 C516.7,2080.0 535.0,2082.5 550.0,2086.0 C565.0,2089.5 575.0,2094.2 590.0,2098.0 C605.0,2101.8 623.3,2105.2 640.0,2109.0 C656.7,2112.8 673.3,2117.0 690.0,2120.5 C706.7,2124.0 723.3,2127.1 740.0,2130.0 C756.7,2132.9 773.3,2135.0 790.0,2138.0 C806.7,2141.0 821.7,2143.0 840.0,2148.0 C858.3,2153.0 881.7,2162.5 900.0,2168.0 C918.3,2173.5 933.3,2176.3 950.0,2181.0 C966.7,2185.7 983.3,2190.8 1000.0,2196.0 C1016.7,2201.2 1033.3,2206.7 1050.0,2212.0 C1066.7,2217.3 1083.3,2222.7 1100.0,2228.0 C1116.7,2233.3 1133.3,2238.7 1150.0,2244.0 C1166.7,2249.3 1183.3,2254.7 1200.0,2260.0 C1216.7,2265.3 1233.3,2270.5 1250.0,2276.0 C1266.7,2281.5 1280.8,2286.8 1300.0,2293.0 C1319.2,2299.2 1354.2,2309.7 1365.0,2313.0" fill="none" stroke="#4f4f4f" stroke-width="4.20" stroke-dasharray="24.5,26" fill="none"/>
<path d="M162.0,2267.0 C176.7,2268.2 218.7,2271.5 250.0,2274.0 C281.3,2276.5 326.0,2280.1 350.0,2282.0 C374.0,2283.9 374.0,2283.6 394.0,2285.5 C414.0,2287.4 444.8,2290.6 470.0,2293.5 C495.2,2296.4 524.0,2300.0 545.0,2302.8 C566.0,2305.6 579.2,2307.6 596.0,2310.3 C612.8,2313.0 629.2,2316.0 646.0,2319.0 C662.8,2322.0 680.3,2324.8 697.0,2328.2 C713.7,2331.6 729.7,2335.7 746.0,2339.2 C762.3,2342.7 778.3,2345.3 795.0,2349.0 C811.7,2352.7 830.2,2357.4 846.0,2361.4 C861.8,2365.4 874.2,2368.0 890.0,2373.0 C905.8,2378.0 932.5,2388.4 941.0,2391.5" fill="none" stroke="#4f4f4f" stroke-width="4.20" stroke-dasharray="24.5,26" fill="none"/>
<path d="M1017.7,1546.7 C1017.9,1564.0 1019.0,1616.5 1018.7,1650.5 C1018.5,1684.5 1017.0,1717.4 1016.2,1750.9 C1015.4,1784.4 1015.0,1817.8 1013.7,1851.3 C1012.4,1884.8 1009.9,1921.8 1008.6,1951.6 C1007.3,1981.4 1006.9,2003.7 1006.1,2030.2 C1005.3,2056.7 1005.3,2085.4 1003.6,2110.5 C1001.9,2135.6 999.9,2160.6 996.1,2180.7 C992.3,2200.8 988.5,2212.5 981.0,2230.9 C973.5,2249.3 964.3,2273.5 950.9,2291.1 C937.5,2308.7 917.5,2323.8 900.8,2336.3 C884.1,2348.9 873.2,2358.0 850.6,2366.4 C828.0,2374.8 792.1,2382.0 765.3,2386.5 C738.5,2391.0 734.2,2392.3 690.0,2393.5 C645.8,2394.7 587.5,2393.6 500.0,2393.5 C412.5,2393.4 220.8,2393.1 165.0,2393.0" fill="none" stroke="#c6c7c4" stroke-width="4.00" stroke-dasharray="33,5.5" fill="none"/>
<polygon points="1004.4,1597.2 1019.2,1611.5 1032.4,1599.6 1019.2,1638.4" fill="#c6c7c4" stroke="none" stroke-width="0.00" stroke-linejoin="round"/>
<polygon points="992.6,2007.6 1006.1,2020.8 1019.7,2010.1 1006.1,2045.2" fill="#c6c7c4" stroke="none" stroke-width="0.00" stroke-linejoin="round"/>
<polygon points="394.8,1913.5 437.0,1911.2 445.7,1990.0 451.0,2040.0 455.1,2080.0 459.4,2123.3 463.0,2155.8 465.2,2188.3 463.8,2217.2 459.4,2230.0 452.0,2250.0 445.0,2270.0 435.7,2292.4 412.6,2343.3 398.0,2368.0 391.0,2377.0 384.0,2378.5 345.6,2376.0 358.0,2352.0 371.0,2329.4 383.0,2305.0 394.2,2276.2 400.0,2253.0 406.0,2230.0 410.3,2202.7 411.8,2173.9 411.8,2123.3 411.0,2080.0 407.0,2040.0 401.7,1990.0" fill="#f2c6cb" style="mix-blend-mode:multiply"/>
<rect x="406.7" y="1914.8" width="18.2" height="15" fill="#3a00ff"/>
<rect x="399.1" y="1924.3" width="18.6" height="15.2" fill="#3a00ff"/>
<polygon points="423.3,2095.0 435.8,2110.3 423.3,2125.6 410.8,2110.3" fill="#ff3dcc" stroke="none" stroke-width="0.00" stroke-linejoin="round"/>
<polygon points="447.9,2184.6 460.4,2199.9 447.9,2215.2 435.4,2199.9" fill="#ff3dcc" stroke="none" stroke-width="0.00" stroke-linejoin="round"/>
<polygon points="414.0,2296.0 439.0,2296.0 426.5,2275.0" fill="#3b7a14" stroke="none" stroke-width="0.00" stroke-linejoin="round"/>
<polygon points="356.2,2353.8 381.2,2353.8 368.7,2332.8" fill="#3b7a14" stroke="none" stroke-width="0.00" stroke-linejoin="round"/>
<polygon points="363.2,2363.0 388.2,2363.0 375.7,2342.0" fill="#3b7a14" stroke="none" stroke-width="0.00" stroke-linejoin="round"/>
<polygon points="358.5,2376.9 383.5,2376.9 371.0,2355.9" fill="#3b7a14" stroke="none" stroke-width="0.00" stroke-linejoin="round"/>
<polygon points="387.4,2358.4 412.4,2358.4 399.9,2337.4" fill="#3b7a14" stroke="none" stroke-width="0.00" stroke-linejoin="round"/>
<circle cx="229.2" cy="1546.3" r="16.1" fill="#000"/>
<circle cx="335.6" cy="1845.7" r="16.1" fill="#000"/>
<circle cx="212.3" cy="2185.0" r="16.1" fill="#000"/>
<text x="315.1" y="1577.3" font-size="33.5" text-anchor="middle" font-weight="normal" fill="#000" textLength="114.4" lengthAdjust="spacingAndGlyphs">Kilauea</text>
<text x="336.9" y="1691.0" font-size="31.5" text-anchor="middle" font-weight="bold" fill="#000" textLength="139.5" lengthAdjust="spacingAndGlyphs">E-MORB</text>
<text x="429.6" y="1856.3" font-size="33.5" text-anchor="middle" font-weight="normal" fill="#000" textLength="126.1" lengthAdjust="spacingAndGlyphs">Reunion</text>
<text x="305.0" y="2177.4" font-size="31.5" text-anchor="middle" font-weight="bold" fill="#000" textLength="144.6" lengthAdjust="spacingAndGlyphs">N-MORB</text>
<text x="327.2" y="2212.8" font-size="33.5" text-anchor="middle" font-weight="normal" fill="#000" textLength="191.2" lengthAdjust="spacingAndGlyphs">Galunggung</text>
<text x="650.8" y="2025.8" font-size="33.5" text-anchor="middle" font-weight="normal" fill="#000" textLength="171.8" lengthAdjust="spacingAndGlyphs">Guatemala</text>
<text x="651.2" y="2055.8" font-size="33.5" text-anchor="middle" font-weight="normal" fill="#000" textLength="82.4" lengthAdjust="spacingAndGlyphs">(BVF)</text>
<text x="731.2" y="2080.2" font-size="33.5" text-anchor="middle" font-weight="normal" fill="#000" textLength="150.0" lengthAdjust="spacingAndGlyphs">Stromboli</text>
<text x="863.6" y="2213.3" font-size="33.5" text-anchor="middle" font-weight="normal" fill="#000" textLength="108.1" lengthAdjust="spacingAndGlyphs">Mexico</text>
<text x="1103.2" y="2312.2" font-size="33.5" text-anchor="middle" font-weight="normal" fill="#000" textLength="188.8" lengthAdjust="spacingAndGlyphs">Cerro Negro</text>
<text x="972.2" y="2361.4" font-size="33.5" text-anchor="middle" font-weight="normal" fill="#000" textLength="94.6" lengthAdjust="spacingAndGlyphs">Fuego</text>
<text x="887.5" y="1596.8" font-size="33.5" text-anchor="middle" font-weight="normal" fill="#777777" textLength="231.0" lengthAdjust="spacingAndGlyphs">Closed-system</text>
<text x="892.5" y="1628.0" font-size="33.5" text-anchor="middle" font-weight="normal" fill="#777777" textLength="158.7" lengthAdjust="spacingAndGlyphs">degassing</text>
<g transform="translate(194.7 2092.1) rotate(5.3)"><text x="0" y="0" font-size="49" fill="#4f4f4f" textLength="196" lengthAdjust="spacingAndGlyphs">500 MPa</text></g>
<g transform="translate(174.7 2257.8) rotate(5.0)"><text x="0" y="0" font-size="49" fill="#4f4f4f" textLength="196" lengthAdjust="spacingAndGlyphs">200 MPa</text></g>
<g transform="translate(500.0 2075.0) rotate(-66.00)"><text x="0" y="0" font-size="36.0" textLength="170.0" lengthAdjust="spacingAndGlyphs">X<tspan font-size="28.8" dy="7.2">CO</tspan><tspan font-size="25.9" dy="2.9">2</tspan><tspan font-size="28.8" dy="-2.9">=0.9</tspan></text></g>
<g transform="translate(810.0 2127.0) rotate(-66.00)"><text x="0" y="0" font-size="36.0" textLength="170.0" lengthAdjust="spacingAndGlyphs">X<tspan font-size="28.8" dy="7.2">CO</tspan><tspan font-size="25.9" dy="2.9">2</tspan><tspan font-size="28.8" dy="-2.9">=0.7</tspan></text></g>
<g transform="translate(1062.0 2195.0) rotate(-42.00)"><text x="0" y="0" font-size="36.0" textLength="178.0" lengthAdjust="spacingAndGlyphs">X<tspan font-size="28.8" dy="7.2">CO</tspan><tspan font-size="25.9" dy="2.9">2</tspan><tspan font-size="28.8" dy="-2.9">=0.5</tspan></text></g>
<g transform="translate(1201.0 2284.0) rotate(-11.00)"><text x="0" y="0" font-size="36.0" textLength="166.0" lengthAdjust="spacingAndGlyphs">X<tspan font-size="28.8" dy="7.2">CO</tspan><tspan font-size="25.9" dy="2.9">2</tspan><tspan font-size="28.8" dy="-2.9">=0.3</tspan></text></g>
<g transform="translate(1181.0 2355.0) rotate(-3.00)"><text x="0" y="0" font-size="36.0" textLength="168.0" lengthAdjust="spacingAndGlyphs">X<tspan font-size="28.8" dy="7.2">CO</tspan><tspan font-size="25.9" dy="2.9">2</tspan><tspan font-size="28.8" dy="-2.9">=0.1</tspan></text></g>
<rect x="1086.4" y="1566.2" width="265" height="183.2" rx="12" fill="none" stroke="#000" stroke-width="1.6"/>
<rect x="1097.5" y="1609" width="19" height="15.4" fill="#1a00ff"/>
<polygon points="1111.5,1646.7 1124.0,1662.0 1111.5,1677.3 1099.0,1662.0" fill="#ff55ee" stroke="none" stroke-width="0.00" stroke-linejoin="round"/>
<polygon points="1099.0,1716.2 1124.0,1716.2 1111.5,1695.2" fill="#2f8a1a" stroke="none" stroke-width="0.00" stroke-linejoin="round"/>
<text x="1181.0" y="1628.0" font-size="40.0" text-anchor="middle" font-weight="normal" fill="#000" textLength="95.9" lengthAdjust="spacingAndGlyphs">EDP1</text>
<text x="1181.8" y="1673.1" font-size="40.0" text-anchor="middle" font-weight="normal" fill="#000" textLength="97.4" lengthAdjust="spacingAndGlyphs">EDP2</text>
<text x="1240.0" y="1719.3" font-size="40.0" text-anchor="middle" font-weight="normal" fill="#000" textLength="208.8" lengthAdjust="spacingAndGlyphs">EDP3/EDP4</text>
</svg>
</body></html>
